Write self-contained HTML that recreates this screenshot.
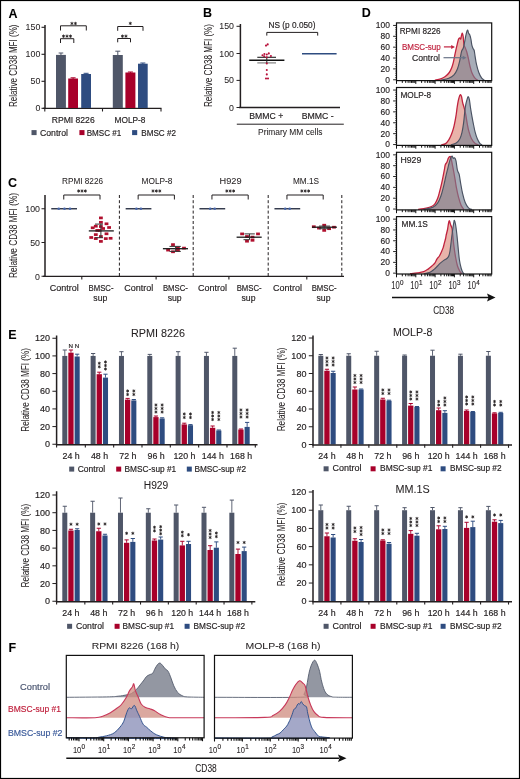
<!DOCTYPE html>
<html><head><meta charset="utf-8"><style>
html,body{margin:0;padding:0;background:#fff;}
svg{display:block;font-family:"Liberation Sans", sans-serif;will-change:transform;}
</style></head><body>
<svg width="520" height="779" viewBox="0 0 520 779">
<rect x="0" y="0" width="520" height="779" fill="#fff"/>
<rect x="0.5" y="0.5" width="519" height="778" fill="none" stroke="#000" stroke-width="1.2"/>
<text x="13" y="17.8" font-size="12.5" text-anchor="middle" fill="#000" stroke="#000" stroke-width="0.06" font-weight="bold">A</text>
<text x="207.6" y="17.4" font-size="12.5" text-anchor="middle" fill="#000" stroke="#000" stroke-width="0.06" font-weight="bold">B</text>
<text x="12.6" y="187" font-size="12.5" text-anchor="middle" fill="#000" stroke="#000" stroke-width="0.06" font-weight="bold">C</text>
<text x="366.3" y="17.3" font-size="12.5" text-anchor="middle" fill="#000" stroke="#000" stroke-width="0.06" font-weight="bold">D</text>
<text x="12.3" y="338.9" font-size="12.5" text-anchor="middle" fill="#000" stroke="#000" stroke-width="0.06" font-weight="bold">E</text>
<text x="12.3" y="652" font-size="12.5" text-anchor="middle" fill="#000" stroke="#000" stroke-width="0.06" font-weight="bold">F</text>
<text x="13.4" y="69.54" font-size="10.4" text-anchor="middle" fill="#231f20" stroke="#231f20" stroke-width="0.06" textLength="82.5" lengthAdjust="spacingAndGlyphs" transform="rotate(-90 13.4 65.8)">Relative CD38 MFI (%)</text>
<line x1="45" y1="25" x2="45" y2="109" stroke="#231f20" stroke-width="1.5" />
<line x1="41.5" y1="27.3" x2="45" y2="27.3" stroke="#231f20" stroke-width="1.1" />
<text x="40.3" y="30.01" font-size="9.9" text-anchor="end" fill="#231f20" stroke="#231f20" stroke-width="0.06" textLength="14.7" lengthAdjust="spacingAndGlyphs">150</text>
<line x1="41.5" y1="54.3" x2="45" y2="54.3" stroke="#231f20" stroke-width="1.1" />
<text x="40.3" y="57.01" font-size="9.9" text-anchor="end" fill="#231f20" stroke="#231f20" stroke-width="0.06" textLength="14.7" lengthAdjust="spacingAndGlyphs">100</text>
<line x1="41.5" y1="81.3" x2="45" y2="81.3" stroke="#231f20" stroke-width="1.1" />
<text x="40.3" y="84.01" font-size="9.9" text-anchor="end" fill="#231f20" stroke="#231f20" stroke-width="0.06" textLength="9.8" lengthAdjust="spacingAndGlyphs">50</text>
<line x1="41.5" y1="108.3" x2="45" y2="108.3" stroke="#231f20" stroke-width="1.1" />
<text x="40.3" y="111.01" font-size="9.9" text-anchor="end" fill="#231f20" stroke="#231f20" stroke-width="0.06" textLength="4.9" lengthAdjust="spacingAndGlyphs">0</text>
<line x1="43" y1="108.4" x2="161.5" y2="108.4" stroke="#231f20" stroke-width="1.4" />
<line x1="44.8" y1="108.4" x2="44.8" y2="111.5" stroke="#231f20" stroke-width="1.1" />
<line x1="102.5" y1="108.4" x2="102.5" y2="111.5" stroke="#231f20" stroke-width="1.1" />
<line x1="161" y1="108.4" x2="161" y2="111.5" stroke="#231f20" stroke-width="1.1" />
<rect x="56" y="54.9" width="9.9" height="53.1" fill="#4f5668" />
<line x1="60.95" y1="53" x2="60.95" y2="55.4" stroke="#4f5668" stroke-width="1" />
<line x1="58.65" y1="53" x2="63.25" y2="53" stroke="#4f5668" stroke-width="1" />
<rect x="68.2" y="78.5" width="9.8" height="29.5" fill="#a8002a" />
<line x1="73.1" y1="77.8" x2="73.1" y2="79" stroke="#a8002a" stroke-width="1" />
<line x1="70.6" y1="77.8" x2="75.6" y2="77.8" stroke="#a8002a" stroke-width="1" />
<rect x="81.2" y="74" width="9.8" height="34" fill="#2e4c80" />
<line x1="86.1" y1="73.3" x2="86.1" y2="74.5" stroke="#2e4c80" stroke-width="1" />
<line x1="83.6" y1="73.3" x2="88.6" y2="73.3" stroke="#2e4c80" stroke-width="1" />
<rect x="112.8" y="55" width="10" height="53" fill="#4f5668" />
<line x1="117.8" y1="51.2" x2="117.8" y2="55.5" stroke="#4f5668" stroke-width="1" />
<line x1="115.3" y1="51.2" x2="120.3" y2="51.2" stroke="#4f5668" stroke-width="1" />
<rect x="125.4" y="72.5" width="10" height="35.5" fill="#a8002a" />
<line x1="130.4" y1="72" x2="130.4" y2="73" stroke="#a8002a" stroke-width="1" />
<line x1="127.9" y1="72" x2="132.9" y2="72" stroke="#a8002a" stroke-width="1" />
<rect x="138" y="63.7" width="9.7" height="44.3" fill="#2e4c80" />
<line x1="142.85" y1="63" x2="142.85" y2="64.2" stroke="#2e4c80" stroke-width="1" />
<line x1="140.35" y1="63" x2="145.35" y2="63" stroke="#2e4c80" stroke-width="1" />
<path d="M60.5 30.5 V25.8 H86.3 V30.5" fill="none" stroke="#231f20" stroke-width="1" />
<path d="M71.95 22.25 L71.95 24.75 M70.87 22.88 L73.03 24.12 M73.03 22.88 L70.87 24.12 " stroke="#231f20" stroke-width="0.85" stroke-linecap="round"/>
<path d="M75.45 22.25 L75.45 24.75 M74.37 22.88 L76.53 24.12 M76.53 22.88 L74.37 24.12 " stroke="#231f20" stroke-width="0.85" stroke-linecap="round"/>
<path d="M60.5 43 V38.7 H73.8 V43" fill="none" stroke="#231f20" stroke-width="1" />
<path d="M63.5 34.95 L63.5 37.45 M62.42 35.58 L64.58 36.83 M64.58 35.58 L62.42 36.83 " stroke="#231f20" stroke-width="0.85" stroke-linecap="round"/>
<path d="M67 34.95 L67 37.45 M65.92 35.58 L68.08 36.83 M68.08 35.58 L65.92 36.83 " stroke="#231f20" stroke-width="0.85" stroke-linecap="round"/>
<path d="M70.5 34.95 L70.5 37.45 M69.42 35.58 L71.58 36.83 M71.58 35.58 L69.42 36.83 " stroke="#231f20" stroke-width="0.85" stroke-linecap="round"/>
<path d="M117.7 30.8 V26.5 H143 V30.8" fill="none" stroke="#231f20" stroke-width="1" />
<path d="M130.3 22.15 L130.3 24.65 M129.22 22.77 L131.38 24.02 M131.38 22.77 L129.22 24.02 " stroke="#231f20" stroke-width="0.85" stroke-linecap="round"/>
<path d="M117.7 42.3 V38.5 H130.5 V42.3" fill="none" stroke="#231f20" stroke-width="1" />
<path d="M122.45 34.95 L122.45 37.45 M121.37 35.58 L123.53 36.83 M123.53 35.58 L121.37 36.83 " stroke="#231f20" stroke-width="0.85" stroke-linecap="round"/>
<path d="M125.95 34.95 L125.95 37.45 M124.87 35.58 L127.03 36.83 M127.03 35.58 L124.87 36.83 " stroke="#231f20" stroke-width="0.85" stroke-linecap="round"/>
<text x="73.2" y="122.54" font-size="9" text-anchor="middle" fill="#231f20" stroke="#231f20" stroke-width="0.17" textLength="43" lengthAdjust="spacingAndGlyphs">RPMI 8226</text>
<text x="130" y="122.54" font-size="9" text-anchor="middle" fill="#231f20" stroke="#231f20" stroke-width="0.17" textLength="31" lengthAdjust="spacingAndGlyphs">MOLP-8</text>
<rect x="31.5" y="130.1" width="5.1" height="5" fill="#4f5668" />
<text x="39.9" y="135.7" font-size="8.6" text-anchor="start" fill="#231f20" stroke="#231f20" stroke-width="0.17" textLength="28.1" lengthAdjust="spacingAndGlyphs">Control</text>
<rect x="79.4" y="130.1" width="5.1" height="5" fill="#a8002a" />
<text x="86.7" y="135.7" font-size="8.6" text-anchor="start" fill="#231f20" stroke="#231f20" stroke-width="0.17" textLength="34.6" lengthAdjust="spacingAndGlyphs">BMSC #1</text>
<rect x="132.1" y="130.1" width="5.1" height="5" fill="#2e4c80" />
<text x="141.3" y="135.7" font-size="8.6" text-anchor="start" fill="#231f20" stroke="#231f20" stroke-width="0.17" textLength="34.7" lengthAdjust="spacingAndGlyphs">BMSC #2</text>
<text x="208.6" y="69.24" font-size="10.4" text-anchor="middle" fill="#231f20" stroke="#231f20" stroke-width="0.06" textLength="83" lengthAdjust="spacingAndGlyphs" transform="rotate(-90 208.6 65.5)">Relative CD38 MFI (%)</text>
<line x1="240.4" y1="24" x2="240.4" y2="108" stroke="#231f20" stroke-width="1.5" />
<line x1="236.5" y1="26.3" x2="240.4" y2="26.3" stroke="#231f20" stroke-width="1" />
<text x="234" y="29.36" font-size="9.9" text-anchor="end" fill="#231f20" stroke="#231f20" stroke-width="0.06" textLength="14.7" lengthAdjust="spacingAndGlyphs">150</text>
<line x1="236.5" y1="53.5" x2="240.4" y2="53.5" stroke="#231f20" stroke-width="1" />
<text x="234" y="56.56" font-size="9.9" text-anchor="end" fill="#231f20" stroke="#231f20" stroke-width="0.06" textLength="14.7" lengthAdjust="spacingAndGlyphs">100</text>
<line x1="236.5" y1="80.4" x2="240.4" y2="80.4" stroke="#231f20" stroke-width="1" />
<text x="234" y="83.46" font-size="9.9" text-anchor="end" fill="#231f20" stroke="#231f20" stroke-width="0.06" textLength="9.8" lengthAdjust="spacingAndGlyphs">50</text>
<line x1="236.5" y1="107.5" x2="240.4" y2="107.5" stroke="#231f20" stroke-width="1" />
<text x="234" y="110.56" font-size="9.9" text-anchor="end" fill="#231f20" stroke="#231f20" stroke-width="0.06" textLength="4.9" lengthAdjust="spacingAndGlyphs">0</text>
<line x1="239" y1="107.5" x2="340" y2="107.5" stroke="#231f20" stroke-width="1.4" />
<text x="266.3" y="119.38" font-size="9.4" text-anchor="middle" fill="#231f20" stroke="#231f20" stroke-width="0.17" textLength="34" lengthAdjust="spacingAndGlyphs">BMMC +</text>
<text x="317.7" y="119.38" font-size="9.4" text-anchor="middle" fill="#231f20" stroke="#231f20" stroke-width="0.17" textLength="32" lengthAdjust="spacingAndGlyphs">BMMC -</text>
<line x1="236.8" y1="124.2" x2="343.8" y2="124.2" stroke="#231f20" stroke-width="1" />
<text x="290.3" y="135.03" font-size="9.8" text-anchor="middle" fill="#231f20" stroke="#231f20" stroke-width="0.06" textLength="64.5" lengthAdjust="spacingAndGlyphs">Primary MM cells</text>
<text x="292" y="28.38" font-size="9.4" text-anchor="middle" fill="#231f20" stroke="#231f20" stroke-width="0.17" textLength="47" lengthAdjust="spacingAndGlyphs">NS (p 0.050)</text>
<path d="M266.8 35.6 V32.4 H317.7 V35.6" fill="none" stroke="#231f20" stroke-width="1" />
<line x1="302" y1="53.8" x2="336.6" y2="53.8" stroke="#2e4c80" stroke-width="1.5" />
<line x1="249.2" y1="60.2" x2="284.4" y2="60.2" stroke="#111" stroke-width="1.5" />
<line x1="257.3" y1="57.3" x2="276" y2="57.3" stroke="#222" stroke-width="1.1" />
<line x1="257.3" y1="62.9" x2="276" y2="62.9" stroke="#777" stroke-width="1.1" />
<line x1="266.8" y1="57.3" x2="266.8" y2="62.9" stroke="#222" stroke-width="1" />
<circle cx="266" cy="45.6" r="1.05" fill="#b8103a"/>
<circle cx="267.7" cy="44.4" r="1.05" fill="#b8103a"/>
<circle cx="262.5" cy="55.2" r="1.05" fill="#b8103a"/>
<circle cx="264.4" cy="54" r="1.05" fill="#b8103a"/>
<circle cx="266.8" cy="54.5" r="1.05" fill="#b8103a"/>
<circle cx="268.8" cy="53.4" r="1.05" fill="#b8103a"/>
<circle cx="270.9" cy="56" r="1.05" fill="#b8103a"/>
<circle cx="266.8" cy="57.2" r="1.05" fill="#b8103a"/>
<circle cx="264.2" cy="56.3" r="1.05" fill="#b8103a"/>
<circle cx="266.8" cy="63.5" r="1.05" fill="#b8103a"/>
<circle cx="266.8" cy="70" r="1.05" fill="#b8103a"/>
<circle cx="266.8" cy="74.4" r="1.05" fill="#b8103a"/>
<circle cx="266" cy="78.5" r="1.05" fill="#b8103a"/>
<circle cx="268" cy="78.5" r="1.05" fill="#b8103a"/>
<text x="13.4" y="239.24" font-size="10.4" text-anchor="middle" fill="#231f20" stroke="#231f20" stroke-width="0.06" textLength="85" lengthAdjust="spacingAndGlyphs" transform="rotate(-90 13.4 235.5)">Relative CD38 MFI (%)</text>
<line x1="45" y1="195" x2="45" y2="276.8" stroke="#231f20" stroke-width="1.5" />
<line x1="41.5" y1="208.75" x2="45" y2="208.75" stroke="#231f20" stroke-width="1" />
<text x="40" y="212.31" font-size="9.9" text-anchor="end" fill="#231f20" stroke="#231f20" stroke-width="0.06" textLength="14.7" lengthAdjust="spacingAndGlyphs">100</text>
<line x1="41.5" y1="242.5" x2="45" y2="242.5" stroke="#231f20" stroke-width="1" />
<text x="40" y="246.06" font-size="9.9" text-anchor="end" fill="#231f20" stroke="#231f20" stroke-width="0.06" textLength="9.8" lengthAdjust="spacingAndGlyphs">50</text>
<line x1="41.5" y1="276.25" x2="45" y2="276.25" stroke="#231f20" stroke-width="1" />
<text x="40" y="279.81" font-size="9.9" text-anchor="end" fill="#231f20" stroke="#231f20" stroke-width="0.06" textLength="4.9" lengthAdjust="spacingAndGlyphs">0</text>
<line x1="43" y1="276.4" x2="344" y2="276.4" stroke="#231f20" stroke-width="1.4" />
<text x="82.5" y="183.92" font-size="9.5" text-anchor="middle" fill="#231f20" stroke="#231f20" stroke-width="0.06" textLength="41" lengthAdjust="spacingAndGlyphs">RPMI 8226</text>
<line x1="51.25" y1="208.75" x2="77" y2="208.75" stroke="#2b3245" stroke-width="1.4" />
<circle cx="58.75" cy="208.75" r="1.35" fill="#4866a8"/>
<circle cx="64.5" cy="208.75" r="1.35" fill="#4866a8"/>
<circle cx="70" cy="208.75" r="1.35" fill="#4866a8"/>
<line x1="81.8" y1="276.4" x2="81.8" y2="279.5" stroke="#231f20" stroke-width="1.1" />
<path d="M63.75 199.5 V195 H100 V199.5" fill="none" stroke="#231f20" stroke-width="1" />
<path d="M78.6 189.81 L78.6 192.19 M77.57 190.41 L79.63 191.59 M79.63 190.41 L77.57 191.59 " stroke="#231f20" stroke-width="0.85" stroke-linecap="round"/>
<path d="M82 189.81 L82 192.19 M80.97 190.41 L83.03 191.59 M83.03 190.41 L80.97 191.59 " stroke="#231f20" stroke-width="0.85" stroke-linecap="round"/>
<path d="M85.4 189.81 L85.4 192.19 M84.37 190.41 L86.43 191.59 M86.43 190.41 L84.37 191.59 " stroke="#231f20" stroke-width="0.85" stroke-linecap="round"/>
<text x="64.3" y="291.17" font-size="8.8" text-anchor="middle" fill="#231f20" stroke="#231f20" stroke-width="0.17" textLength="29" lengthAdjust="spacingAndGlyphs">Control</text>
<text x="101" y="291.17" font-size="8.8" text-anchor="middle" fill="#231f20" stroke="#231f20" stroke-width="0.17" textLength="25" lengthAdjust="spacingAndGlyphs">BMSC-</text>
<text x="100.3" y="301.47" font-size="8.8" text-anchor="middle" fill="#231f20" stroke="#231f20" stroke-width="0.17" textLength="14" lengthAdjust="spacingAndGlyphs">sup</text>
<text x="157" y="183.92" font-size="9.5" text-anchor="middle" fill="#231f20" stroke="#231f20" stroke-width="0.06" textLength="31" lengthAdjust="spacingAndGlyphs">MOLP-8</text>
<line x1="119.4" y1="195" x2="119.4" y2="276.4" stroke="#231f20" stroke-width="1" stroke-dasharray="3 2.2"/>
<line x1="125.65" y1="208.75" x2="151.4" y2="208.75" stroke="#2b3245" stroke-width="1.4" />
<circle cx="136.4" cy="208.75" r="1.35" fill="#4866a8"/>
<circle cx="140.9" cy="208.75" r="1.35" fill="#4866a8"/>
<line x1="156.1" y1="276.4" x2="156.1" y2="279.5" stroke="#231f20" stroke-width="1.1" />
<path d="M138.15 199.5 V195 H174.4 V199.5" fill="none" stroke="#231f20" stroke-width="1" />
<path d="M153 189.81 L153 192.19 M151.97 190.41 L154.03 191.59 M154.03 190.41 L151.97 191.59 " stroke="#231f20" stroke-width="0.85" stroke-linecap="round"/>
<path d="M156.4 189.81 L156.4 192.19 M155.37 190.41 L157.43 191.59 M157.43 190.41 L155.37 191.59 " stroke="#231f20" stroke-width="0.85" stroke-linecap="round"/>
<path d="M159.8 189.81 L159.8 192.19 M158.77 190.41 L160.83 191.59 M160.83 190.41 L158.77 191.59 " stroke="#231f20" stroke-width="0.85" stroke-linecap="round"/>
<text x="138.7" y="291.17" font-size="8.8" text-anchor="middle" fill="#231f20" stroke="#231f20" stroke-width="0.17" textLength="29" lengthAdjust="spacingAndGlyphs">Control</text>
<text x="175.4" y="291.17" font-size="8.8" text-anchor="middle" fill="#231f20" stroke="#231f20" stroke-width="0.17" textLength="25" lengthAdjust="spacingAndGlyphs">BMSC-</text>
<text x="174.7" y="301.47" font-size="8.8" text-anchor="middle" fill="#231f20" stroke="#231f20" stroke-width="0.17" textLength="14" lengthAdjust="spacingAndGlyphs">sup</text>
<text x="230.5" y="183.92" font-size="9.5" text-anchor="middle" fill="#231f20" stroke="#231f20" stroke-width="0.06" textLength="22" lengthAdjust="spacingAndGlyphs">H929</text>
<line x1="193.2" y1="195" x2="193.2" y2="276.4" stroke="#231f20" stroke-width="1" stroke-dasharray="3 2.2"/>
<line x1="199.45" y1="208.75" x2="225.2" y2="208.75" stroke="#2b3245" stroke-width="1.4" />
<circle cx="210.2" cy="208.75" r="1.35" fill="#4866a8"/>
<circle cx="214.7" cy="208.75" r="1.35" fill="#4866a8"/>
<line x1="228.9" y1="276.4" x2="228.9" y2="279.5" stroke="#231f20" stroke-width="1.1" />
<path d="M211.95 199.5 V195 H248.2 V199.5" fill="none" stroke="#231f20" stroke-width="1" />
<path d="M226.8 189.81 L226.8 192.19 M225.77 190.41 L227.83 191.59 M227.83 190.41 L225.77 191.59 " stroke="#231f20" stroke-width="0.85" stroke-linecap="round"/>
<path d="M230.2 189.81 L230.2 192.19 M229.17 190.41 L231.23 191.59 M231.23 190.41 L229.17 191.59 " stroke="#231f20" stroke-width="0.85" stroke-linecap="round"/>
<path d="M233.6 189.81 L233.6 192.19 M232.57 190.41 L234.63 191.59 M234.63 190.41 L232.57 191.59 " stroke="#231f20" stroke-width="0.85" stroke-linecap="round"/>
<text x="212.5" y="291.17" font-size="8.8" text-anchor="middle" fill="#231f20" stroke="#231f20" stroke-width="0.17" textLength="29" lengthAdjust="spacingAndGlyphs">Control</text>
<text x="249.2" y="291.17" font-size="8.8" text-anchor="middle" fill="#231f20" stroke="#231f20" stroke-width="0.17" textLength="25" lengthAdjust="spacingAndGlyphs">BMSC-</text>
<text x="248.5" y="301.47" font-size="8.8" text-anchor="middle" fill="#231f20" stroke="#231f20" stroke-width="0.17" textLength="14" lengthAdjust="spacingAndGlyphs">sup</text>
<text x="306" y="183.92" font-size="9.5" text-anchor="middle" fill="#231f20" stroke="#231f20" stroke-width="0.06" textLength="26" lengthAdjust="spacingAndGlyphs">MM.1S</text>
<line x1="268.2" y1="195" x2="268.2" y2="276.4" stroke="#231f20" stroke-width="1" stroke-dasharray="3 2.2"/>
<line x1="274.45" y1="208.75" x2="300.2" y2="208.75" stroke="#2b3245" stroke-width="1.4" />
<circle cx="285.2" cy="208.75" r="1.35" fill="#4866a8"/>
<circle cx="289.7" cy="208.75" r="1.35" fill="#4866a8"/>
<line x1="306.8" y1="276.4" x2="306.8" y2="279.5" stroke="#231f20" stroke-width="1.1" />
<path d="M286.95 199.5 V195 H323.2 V199.5" fill="none" stroke="#231f20" stroke-width="1" />
<path d="M301.8 189.81 L301.8 192.19 M300.77 190.41 L302.83 191.59 M302.83 190.41 L300.77 191.59 " stroke="#231f20" stroke-width="0.85" stroke-linecap="round"/>
<path d="M305.2 189.81 L305.2 192.19 M304.17 190.41 L306.23 191.59 M306.23 190.41 L304.17 191.59 " stroke="#231f20" stroke-width="0.85" stroke-linecap="round"/>
<path d="M308.6 189.81 L308.6 192.19 M307.57 190.41 L309.63 191.59 M309.63 190.41 L307.57 191.59 " stroke="#231f20" stroke-width="0.85" stroke-linecap="round"/>
<text x="287.5" y="291.17" font-size="8.8" text-anchor="middle" fill="#231f20" stroke="#231f20" stroke-width="0.17" textLength="29" lengthAdjust="spacingAndGlyphs">Control</text>
<text x="324.2" y="291.17" font-size="8.8" text-anchor="middle" fill="#231f20" stroke="#231f20" stroke-width="0.17" textLength="25" lengthAdjust="spacingAndGlyphs">BMSC-</text>
<text x="323.5" y="301.47" font-size="8.8" text-anchor="middle" fill="#231f20" stroke="#231f20" stroke-width="0.17" textLength="14" lengthAdjust="spacingAndGlyphs">sup</text>
<line x1="341.8" y1="195" x2="341.8" y2="276.4" stroke="#231f20" stroke-width="1" stroke-dasharray="3 2.2"/>
<rect x="99" y="216.55" width="3.8" height="2.7" fill="#b0102e" />
<rect x="99" y="220.95" width="3.8" height="2.7" fill="#b0102e" />
<rect x="104.6" y="222.45" width="3.8" height="2.7" fill="#b0102e" />
<rect x="93.9" y="224.85" width="3.8" height="2.7" fill="#b0102e" />
<rect x="90.8" y="226.45" width="3.8" height="2.7" fill="#b0102e" />
<rect x="99" y="225.15" width="3.8" height="2.7" fill="#b0102e" />
<rect x="101.2" y="227.15" width="3.8" height="2.7" fill="#b0102e" />
<rect x="107.2" y="226.15" width="3.8" height="2.7" fill="#b0102e" />
<rect x="95.4" y="229.05" width="3.8" height="2.7" fill="#b0102e" />
<rect x="97.7" y="229.05" width="3.8" height="2.7" fill="#b0102e" />
<rect x="93.9" y="233.25" width="3.8" height="2.7" fill="#b0102e" />
<rect x="104.6" y="232.45" width="3.8" height="2.7" fill="#b0102e" />
<rect x="89.3" y="236.15" width="3.8" height="2.7" fill="#b0102e" />
<rect x="93.9" y="237.25" width="3.8" height="2.7" fill="#b0102e" />
<rect x="99" y="235.15" width="3.8" height="2.7" fill="#b0102e" />
<rect x="103.9" y="237.25" width="3.8" height="2.7" fill="#b0102e" />
<rect x="108.7" y="236.95" width="3.8" height="2.7" fill="#b0102e" />
<rect x="99" y="240.05" width="3.8" height="2.7" fill="#b0102e" />
<line x1="88.8" y1="230.9" x2="113.8" y2="230.9" stroke="#1a1a1a" stroke-width="1.3" />
<line x1="95" y1="224.1" x2="103" y2="224.1" stroke="#333" stroke-width="1" />
<line x1="95" y1="237.7" x2="103" y2="237.7" stroke="#333" stroke-width="1" />
<line x1="100.9" y1="224.1" x2="100.9" y2="237.7" stroke="#333" stroke-width="1" />
<rect x="171.1" y="243.25" width="3.8" height="2.7" fill="#b0102e" />
<rect x="166.2" y="248.75" width="3.8" height="2.7" fill="#b0102e" />
<rect x="171.1" y="250.45" width="3.8" height="2.7" fill="#b0102e" />
<rect x="176" y="246.75" width="3.8" height="2.7" fill="#b0102e" />
<rect x="176" y="249.05" width="3.8" height="2.7" fill="#b0102e" />
<rect x="182.1" y="246.75" width="3.8" height="2.7" fill="#b0102e" />
<line x1="162.9" y1="248.7" x2="188" y2="248.7" stroke="#1a1a1a" stroke-width="1.3" />
<line x1="169.5" y1="246.4" x2="180.8" y2="246.4" stroke="#333" stroke-width="1" />
<line x1="169.5" y1="251.4" x2="180.8" y2="251.4" stroke="#333" stroke-width="1" />
<line x1="175.6" y1="246.4" x2="175.6" y2="251.4" stroke="#333" stroke-width="1" />
<rect x="240.2" y="232.55" width="3.8" height="2.7" fill="#b0102e" />
<rect x="256.1" y="232.55" width="3.8" height="2.7" fill="#b0102e" />
<rect x="245.1" y="235.15" width="3.8" height="2.7" fill="#b0102e" />
<rect x="250.6" y="235.75" width="3.8" height="2.7" fill="#b0102e" />
<rect x="245.1" y="239.85" width="3.8" height="2.7" fill="#b0102e" />
<rect x="250.6" y="238.95" width="3.8" height="2.7" fill="#b0102e" />
<line x1="236.6" y1="237.2" x2="261.7" y2="237.2" stroke="#1a1a1a" stroke-width="1.3" />
<line x1="244.4" y1="233.9" x2="254.8" y2="233.9" stroke="#333" stroke-width="1" />
<line x1="243.5" y1="239.7" x2="249.6" y2="239.7" stroke="#333" stroke-width="1" />
<line x1="249.5" y1="233.9" x2="249.5" y2="239.7" stroke="#333" stroke-width="1" />
<rect x="311.9" y="225.35" width="3.8" height="2.7" fill="#b0102e" />
<rect x="317.1" y="226.75" width="3.8" height="2.7" fill="#b0102e" />
<rect x="322.3" y="223.85" width="3.8" height="2.7" fill="#b0102e" />
<rect x="322.3" y="229.05" width="3.8" height="2.7" fill="#b0102e" />
<rect x="327.2" y="227.35" width="3.8" height="2.7" fill="#b0102e" />
<rect x="332.1" y="225.85" width="3.8" height="2.7" fill="#b0102e" />
<line x1="312" y1="227.2" x2="336.9" y2="227.2" stroke="#1a1a1a" stroke-width="1.3" />
<line x1="319" y1="226.1" x2="330" y2="226.1" stroke="#333" stroke-width="1" />
<line x1="319" y1="228.7" x2="330" y2="228.7" stroke="#333" stroke-width="1" />
<line x1="324.2" y1="226.1" x2="324.2" y2="228.7" stroke="#333" stroke-width="1" />
<path d="M434.9 80.2 C435.94 79.95 438.83 79.47 440.7 78.8 C442.57 78.13 443.75 77.63 445.3 76.5 C446.85 75.37 448.15 74.07 449.3 72.5 C450.45 70.93 450.96 69.67 451.7 67.8 C452.44 65.93 452.84 64.37 453.4 62.1 C453.96 59.83 454.28 57.7 454.8 55.2 C455.32 52.7 455.83 50.29 456.3 48.2 C456.77 46.11 456.99 45.26 457.4 43.6 C457.81 41.94 458.19 40.04 458.6 39 C459.01 37.96 459.32 37.8 459.7 37.8 C460.08 37.8 460.38 39.41 460.7 39 C461.02 38.59 461.19 36.54 461.5 35.5 C461.81 34.46 462.09 32.98 462.4 33.2 C462.71 33.42 462.91 34.61 463.2 36.7 C463.49 38.79 463.69 42.93 464 44.8 C464.31 46.67 464.41 45.86 464.9 47.1 C465.39 48.34 466.07 49.63 466.7 51.7 C467.33 53.77 467.79 55.9 468.4 58.6 C469.01 61.3 469.49 64.2 470.1 66.7 C470.71 69.2 471.06 70.63 471.8 72.5 C472.54 74.37 473.35 75.82 474.2 77.1 C475.05 78.38 475.82 79.04 476.5 79.6 C477.18 80.16 477.73 80.09 478 80.2 L478 80.6 L434.9 80.6 Z" fill="#e9b3aa" stroke="none" stroke-width="1" />
<path d="M434.9 80.2 C435.94 79.95 438.83 79.47 440.7 78.8 C442.57 78.13 443.75 77.63 445.3 76.5 C446.85 75.37 448.15 74.07 449.3 72.5 C450.45 70.93 450.96 69.67 451.7 67.8 C452.44 65.93 452.84 64.37 453.4 62.1 C453.96 59.83 454.28 57.7 454.8 55.2 C455.32 52.7 455.83 50.29 456.3 48.2 C456.77 46.11 456.99 45.26 457.4 43.6 C457.81 41.94 458.19 40.04 458.6 39 C459.01 37.96 459.32 37.8 459.7 37.8 C460.08 37.8 460.38 39.41 460.7 39 C461.02 38.59 461.19 36.54 461.5 35.5 C461.81 34.46 462.09 32.98 462.4 33.2 C462.71 33.42 462.91 34.61 463.2 36.7 C463.49 38.79 463.69 42.93 464 44.8 C464.31 46.67 464.41 45.86 464.9 47.1 C465.39 48.34 466.07 49.63 466.7 51.7 C467.33 53.77 467.79 55.9 468.4 58.6 C469.01 61.3 469.49 64.2 470.1 66.7 C470.71 69.2 471.06 70.63 471.8 72.5 C472.54 74.37 473.35 75.82 474.2 77.1 C475.05 78.38 475.82 79.04 476.5 79.6 C477.18 80.16 477.73 80.09 478 80.2" fill="none" stroke="#c0223e" stroke-width="1.3" stroke-linejoin="round"/>
<path d="M440.7 80.2 C442.16 79.84 446.41 79.17 448.8 78.2 C451.19 77.23 452.45 76.46 454 74.8 C455.55 73.14 456.37 71.5 457.4 69 C458.43 66.5 458.96 64.01 459.7 60.9 C460.44 57.79 460.87 53.99 461.5 51.7 C462.13 49.41 462.7 49.66 463.2 48.2 C463.7 46.74 463.94 45.26 464.3 43.6 C464.66 41.94 464.88 40.66 465.2 39 C465.52 37.34 465.69 36.02 466.1 34.4 C466.51 32.78 467.05 30.22 467.5 30 C467.95 29.78 468.19 32.3 468.6 33.2 C469.01 34.1 469.39 33.96 469.8 35 C470.21 36.04 470.54 37.24 470.9 39 C471.26 40.76 471.39 43.04 471.8 44.8 C472.21 46.56 472.77 47.77 473.2 48.8 C473.63 49.83 473.86 49.15 474.2 50.5 C474.54 51.85 474.69 53.8 475.1 56.3 C475.51 58.8 475.83 61.48 476.5 64.4 C477.17 67.32 477.86 70.02 478.8 72.5 C479.74 74.98 480.67 76.81 481.7 78.2 C482.73 79.59 484 79.84 484.5 80.2 L484.5 80.6 L440.7 80.6 Z" fill="rgba(118,126,144,0.64)" stroke="none" stroke-width="1" />
<path d="M440.7 80.2 C442.16 79.84 446.41 79.17 448.8 78.2 C451.19 77.23 452.45 76.46 454 74.8 C455.55 73.14 456.37 71.5 457.4 69 C458.43 66.5 458.96 64.01 459.7 60.9 C460.44 57.79 460.87 53.99 461.5 51.7 C462.13 49.41 462.7 49.66 463.2 48.2 C463.7 46.74 463.94 45.26 464.3 43.6 C464.66 41.94 464.88 40.66 465.2 39 C465.52 37.34 465.69 36.02 466.1 34.4 C466.51 32.78 467.05 30.22 467.5 30 C467.95 29.78 468.19 32.3 468.6 33.2 C469.01 34.1 469.39 33.96 469.8 35 C470.21 36.04 470.54 37.24 470.9 39 C471.26 40.76 471.39 43.04 471.8 44.8 C472.21 46.56 472.77 47.77 473.2 48.8 C473.63 49.83 473.86 49.15 474.2 50.5 C474.54 51.85 474.69 53.8 475.1 56.3 C475.51 58.8 475.83 61.48 476.5 64.4 C477.17 67.32 477.86 70.02 478.8 72.5 C479.74 74.98 480.67 76.81 481.7 78.2 C482.73 79.59 484 79.84 484.5 80.2" fill="none" stroke="#4a5262" stroke-width="1.15" stroke-linejoin="round"/>
<rect x="396.5" y="22.9" width="95.2" height="57.7" fill="none" stroke="#111" stroke-width="1.2"/>
<line x1="393.1" y1="79.75" x2="396.5" y2="79.75" stroke="#111" stroke-width="0.9" />
<text x="389.9" y="82.63" font-size="9.4" text-anchor="end" fill="#231f20" stroke="#231f20" stroke-width="0.17" textLength="4.7" lengthAdjust="spacingAndGlyphs">0</text>
<line x1="395" y1="77.58" x2="396.5" y2="77.58" stroke="#111" stroke-width="0.6" />
<line x1="395" y1="75.41" x2="396.5" y2="75.41" stroke="#111" stroke-width="0.6" />
<line x1="395" y1="73.23" x2="396.5" y2="73.23" stroke="#111" stroke-width="0.6" />
<line x1="395" y1="71.06" x2="396.5" y2="71.06" stroke="#111" stroke-width="0.6" />
<line x1="393.1" y1="68.89" x2="396.5" y2="68.89" stroke="#111" stroke-width="0.9" />
<text x="389.9" y="71.77" font-size="9.4" text-anchor="end" fill="#231f20" stroke="#231f20" stroke-width="0.17" textLength="9.4" lengthAdjust="spacingAndGlyphs">20</text>
<line x1="395" y1="66.72" x2="396.5" y2="66.72" stroke="#111" stroke-width="0.6" />
<line x1="395" y1="64.55" x2="396.5" y2="64.55" stroke="#111" stroke-width="0.6" />
<line x1="395" y1="62.37" x2="396.5" y2="62.37" stroke="#111" stroke-width="0.6" />
<line x1="395" y1="60.2" x2="396.5" y2="60.2" stroke="#111" stroke-width="0.6" />
<line x1="393.1" y1="58.03" x2="396.5" y2="58.03" stroke="#111" stroke-width="0.9" />
<text x="389.9" y="60.91" font-size="9.4" text-anchor="end" fill="#231f20" stroke="#231f20" stroke-width="0.17" textLength="9.4" lengthAdjust="spacingAndGlyphs">40</text>
<line x1="395" y1="55.86" x2="396.5" y2="55.86" stroke="#111" stroke-width="0.6" />
<line x1="395" y1="53.69" x2="396.5" y2="53.69" stroke="#111" stroke-width="0.6" />
<line x1="395" y1="51.51" x2="396.5" y2="51.51" stroke="#111" stroke-width="0.6" />
<line x1="395" y1="49.34" x2="396.5" y2="49.34" stroke="#111" stroke-width="0.6" />
<line x1="393.1" y1="47.17" x2="396.5" y2="47.17" stroke="#111" stroke-width="0.9" />
<text x="389.9" y="50.05" font-size="9.4" text-anchor="end" fill="#231f20" stroke="#231f20" stroke-width="0.17" textLength="9.4" lengthAdjust="spacingAndGlyphs">60</text>
<line x1="395" y1="45" x2="396.5" y2="45" stroke="#111" stroke-width="0.6" />
<line x1="395" y1="42.83" x2="396.5" y2="42.83" stroke="#111" stroke-width="0.6" />
<line x1="395" y1="40.65" x2="396.5" y2="40.65" stroke="#111" stroke-width="0.6" />
<line x1="395" y1="38.48" x2="396.5" y2="38.48" stroke="#111" stroke-width="0.6" />
<line x1="393.1" y1="36.31" x2="396.5" y2="36.31" stroke="#111" stroke-width="0.9" />
<text x="389.9" y="39.19" font-size="9.4" text-anchor="end" fill="#231f20" stroke="#231f20" stroke-width="0.17" textLength="9.4" lengthAdjust="spacingAndGlyphs">80</text>
<line x1="395" y1="34.14" x2="396.5" y2="34.14" stroke="#111" stroke-width="0.6" />
<line x1="395" y1="31.97" x2="396.5" y2="31.97" stroke="#111" stroke-width="0.6" />
<line x1="395" y1="29.79" x2="396.5" y2="29.79" stroke="#111" stroke-width="0.6" />
<line x1="395" y1="27.62" x2="396.5" y2="27.62" stroke="#111" stroke-width="0.6" />
<line x1="393.1" y1="25.45" x2="396.5" y2="25.45" stroke="#111" stroke-width="0.9" />
<text x="389.9" y="28.33" font-size="9.4" text-anchor="end" fill="#231f20" stroke="#231f20" stroke-width="0.17" textLength="14.1" lengthAdjust="spacingAndGlyphs">100</text>
<line x1="396.5" y1="80.6" x2="396.5" y2="83.9" stroke="#111" stroke-width="1" />
<line x1="402.31" y1="80.6" x2="402.31" y2="82.9" stroke="#111" stroke-width="1" />
<line x1="405.71" y1="80.6" x2="405.71" y2="82.9" stroke="#111" stroke-width="1" />
<line x1="408.12" y1="80.6" x2="408.12" y2="82.9" stroke="#111" stroke-width="1" />
<line x1="409.99" y1="80.6" x2="409.99" y2="82.9" stroke="#111" stroke-width="1" />
<line x1="411.52" y1="80.6" x2="411.52" y2="82.9" stroke="#111" stroke-width="1" />
<line x1="412.81" y1="80.6" x2="412.81" y2="82.9" stroke="#111" stroke-width="1" />
<line x1="413.93" y1="80.6" x2="413.93" y2="82.9" stroke="#111" stroke-width="1" />
<line x1="414.92" y1="80.6" x2="414.92" y2="82.9" stroke="#111" stroke-width="1" />
<line x1="415.8" y1="80.6" x2="415.8" y2="83.9" stroke="#111" stroke-width="1" />
<line x1="421.61" y1="80.6" x2="421.61" y2="82.9" stroke="#111" stroke-width="1" />
<line x1="425.01" y1="80.6" x2="425.01" y2="82.9" stroke="#111" stroke-width="1" />
<line x1="427.42" y1="80.6" x2="427.42" y2="82.9" stroke="#111" stroke-width="1" />
<line x1="429.29" y1="80.6" x2="429.29" y2="82.9" stroke="#111" stroke-width="1" />
<line x1="430.82" y1="80.6" x2="430.82" y2="82.9" stroke="#111" stroke-width="1" />
<line x1="432.11" y1="80.6" x2="432.11" y2="82.9" stroke="#111" stroke-width="1" />
<line x1="433.23" y1="80.6" x2="433.23" y2="82.9" stroke="#111" stroke-width="1" />
<line x1="434.22" y1="80.6" x2="434.22" y2="82.9" stroke="#111" stroke-width="1" />
<line x1="435.1" y1="80.6" x2="435.1" y2="83.9" stroke="#111" stroke-width="1" />
<line x1="440.91" y1="80.6" x2="440.91" y2="82.9" stroke="#111" stroke-width="1" />
<line x1="444.31" y1="80.6" x2="444.31" y2="82.9" stroke="#111" stroke-width="1" />
<line x1="446.72" y1="80.6" x2="446.72" y2="82.9" stroke="#111" stroke-width="1" />
<line x1="448.59" y1="80.6" x2="448.59" y2="82.9" stroke="#111" stroke-width="1" />
<line x1="450.12" y1="80.6" x2="450.12" y2="82.9" stroke="#111" stroke-width="1" />
<line x1="451.41" y1="80.6" x2="451.41" y2="82.9" stroke="#111" stroke-width="1" />
<line x1="452.53" y1="80.6" x2="452.53" y2="82.9" stroke="#111" stroke-width="1" />
<line x1="453.52" y1="80.6" x2="453.52" y2="82.9" stroke="#111" stroke-width="1" />
<line x1="454.4" y1="80.6" x2="454.4" y2="83.9" stroke="#111" stroke-width="1" />
<line x1="460.21" y1="80.6" x2="460.21" y2="82.9" stroke="#111" stroke-width="1" />
<line x1="463.61" y1="80.6" x2="463.61" y2="82.9" stroke="#111" stroke-width="1" />
<line x1="466.02" y1="80.6" x2="466.02" y2="82.9" stroke="#111" stroke-width="1" />
<line x1="467.89" y1="80.6" x2="467.89" y2="82.9" stroke="#111" stroke-width="1" />
<line x1="469.42" y1="80.6" x2="469.42" y2="82.9" stroke="#111" stroke-width="1" />
<line x1="470.71" y1="80.6" x2="470.71" y2="82.9" stroke="#111" stroke-width="1" />
<line x1="471.83" y1="80.6" x2="471.83" y2="82.9" stroke="#111" stroke-width="1" />
<line x1="472.82" y1="80.6" x2="472.82" y2="82.9" stroke="#111" stroke-width="1" />
<line x1="473.7" y1="80.6" x2="473.7" y2="83.9" stroke="#111" stroke-width="1" />
<line x1="479.51" y1="80.6" x2="479.51" y2="82.9" stroke="#111" stroke-width="1" />
<line x1="482.91" y1="80.6" x2="482.91" y2="82.9" stroke="#111" stroke-width="1" />
<line x1="485.32" y1="80.6" x2="485.32" y2="82.9" stroke="#111" stroke-width="1" />
<line x1="487.19" y1="80.6" x2="487.19" y2="82.9" stroke="#111" stroke-width="1" />
<line x1="488.72" y1="80.6" x2="488.72" y2="82.9" stroke="#111" stroke-width="1" />
<line x1="490.01" y1="80.6" x2="490.01" y2="82.9" stroke="#111" stroke-width="1" />
<line x1="491.13" y1="80.6" x2="491.13" y2="82.9" stroke="#111" stroke-width="1" />
<text x="399.7" y="33.65" font-size="9.3" text-anchor="start" fill="#231f20" stroke="#231f20" stroke-width="0.17" textLength="41" lengthAdjust="spacingAndGlyphs">RPMI 8226</text>
<path d="M441.3 144.8 C442.07 144.58 444.25 144.48 445.6 143.6 C446.95 142.72 447.76 141.52 448.8 139.9 C449.84 138.28 450.55 136.71 451.4 134.6 C452.25 132.49 452.83 130.68 453.5 128.2 C454.17 125.72 454.61 123.27 455.1 120.8 C455.59 118.33 455.82 116.98 456.2 114.5 C456.58 112.02 456.82 109.48 457.2 107 C457.58 104.52 457.87 102.7 458.3 100.7 C458.73 98.7 459.22 97 459.6 95.9 C459.98 94.8 460.06 94.49 460.4 94.6 C460.74 94.71 461.09 95.02 461.5 96.5 C461.91 97.98 462.23 100.8 462.7 102.8 C463.17 104.8 463.56 105.49 464.1 107.6 C464.64 109.71 465.12 111.55 465.7 114.5 C466.28 117.45 466.72 120.96 467.3 124 C467.88 127.04 468.14 128.74 468.9 131.4 C469.66 134.06 470.37 136.6 471.5 138.8 C472.63 141 473.96 142.52 475.2 143.6 C476.44 144.68 477.82 144.58 478.4 144.8 L478.4 145.4 L441.3 145.4 Z" fill="#e9b3aa" stroke="none" stroke-width="1" />
<path d="M441.3 144.8 C442.07 144.58 444.25 144.48 445.6 143.6 C446.95 142.72 447.76 141.52 448.8 139.9 C449.84 138.28 450.55 136.71 451.4 134.6 C452.25 132.49 452.83 130.68 453.5 128.2 C454.17 125.72 454.61 123.27 455.1 120.8 C455.59 118.33 455.82 116.98 456.2 114.5 C456.58 112.02 456.82 109.48 457.2 107 C457.58 104.52 457.87 102.7 458.3 100.7 C458.73 98.7 459.22 97 459.6 95.9 C459.98 94.8 460.06 94.49 460.4 94.6 C460.74 94.71 461.09 95.02 461.5 96.5 C461.91 97.98 462.23 100.8 462.7 102.8 C463.17 104.8 463.56 105.49 464.1 107.6 C464.64 109.71 465.12 111.55 465.7 114.5 C466.28 117.45 466.72 120.96 467.3 124 C467.88 127.04 468.14 128.74 468.9 131.4 C469.66 134.06 470.37 136.6 471.5 138.8 C472.63 141 473.96 142.52 475.2 143.6 C476.44 144.68 477.82 144.58 478.4 144.8" fill="none" stroke="#c0223e" stroke-width="1.3" stroke-linejoin="round"/>
<path d="M450.9 144.8 C451.85 144.48 454.58 144.08 456.2 143 C457.82 141.92 458.86 140.71 459.9 138.8 C460.94 136.89 461.33 135.26 462 132.4 C462.67 129.54 463.13 126.32 463.6 122.9 C464.07 119.48 464.22 116.64 464.6 113.4 C464.98 110.16 465.21 107.56 465.7 104.9 C466.19 102.24 466.83 100.08 467.3 98.6 C467.77 97.12 467.92 96.52 468.3 96.7 C468.68 96.88 469.02 97.75 469.4 99.6 C469.78 101.45 469.93 103.94 470.4 107 C470.87 110.06 471.42 113.36 472 116.6 C472.58 119.84 473.02 122.16 473.6 125 C474.18 127.84 474.53 129.92 475.2 132.4 C475.87 134.88 476.44 136.78 477.3 138.8 C478.16 140.82 479.14 142.52 480 143.6 C480.86 144.68 481.72 144.58 482.1 144.8 L482.1 145.4 L450.9 145.4 Z" fill="rgba(118,126,144,0.64)" stroke="none" stroke-width="1" />
<path d="M450.9 144.8 C451.85 144.48 454.58 144.08 456.2 143 C457.82 141.92 458.86 140.71 459.9 138.8 C460.94 136.89 461.33 135.26 462 132.4 C462.67 129.54 463.13 126.32 463.6 122.9 C464.07 119.48 464.22 116.64 464.6 113.4 C464.98 110.16 465.21 107.56 465.7 104.9 C466.19 102.24 466.83 100.08 467.3 98.6 C467.77 97.12 467.92 96.52 468.3 96.7 C468.68 96.88 469.02 97.75 469.4 99.6 C469.78 101.45 469.93 103.94 470.4 107 C470.87 110.06 471.42 113.36 472 116.6 C472.58 119.84 473.02 122.16 473.6 125 C474.18 127.84 474.53 129.92 475.2 132.4 C475.87 134.88 476.44 136.78 477.3 138.8 C478.16 140.82 479.14 142.52 480 143.6 C480.86 144.68 481.72 144.58 482.1 144.8" fill="none" stroke="#4a5262" stroke-width="1.15" stroke-linejoin="round"/>
<rect x="396.5" y="87.5" width="95.2" height="57.9" fill="none" stroke="#111" stroke-width="1.2"/>
<line x1="393.1" y1="144.55" x2="396.5" y2="144.55" stroke="#111" stroke-width="0.9" />
<text x="389.9" y="147.43" font-size="9.4" text-anchor="end" fill="#231f20" stroke="#231f20" stroke-width="0.17" textLength="4.7" lengthAdjust="spacingAndGlyphs">0</text>
<line x1="395" y1="142.37" x2="396.5" y2="142.37" stroke="#111" stroke-width="0.6" />
<line x1="395" y1="140.19" x2="396.5" y2="140.19" stroke="#111" stroke-width="0.6" />
<line x1="395" y1="138.01" x2="396.5" y2="138.01" stroke="#111" stroke-width="0.6" />
<line x1="395" y1="135.83" x2="396.5" y2="135.83" stroke="#111" stroke-width="0.6" />
<line x1="393.1" y1="133.65" x2="396.5" y2="133.65" stroke="#111" stroke-width="0.9" />
<text x="389.9" y="136.53" font-size="9.4" text-anchor="end" fill="#231f20" stroke="#231f20" stroke-width="0.17" textLength="9.4" lengthAdjust="spacingAndGlyphs">20</text>
<line x1="395" y1="131.47" x2="396.5" y2="131.47" stroke="#111" stroke-width="0.6" />
<line x1="395" y1="129.29" x2="396.5" y2="129.29" stroke="#111" stroke-width="0.6" />
<line x1="395" y1="127.11" x2="396.5" y2="127.11" stroke="#111" stroke-width="0.6" />
<line x1="395" y1="124.93" x2="396.5" y2="124.93" stroke="#111" stroke-width="0.6" />
<line x1="393.1" y1="122.75" x2="396.5" y2="122.75" stroke="#111" stroke-width="0.9" />
<text x="389.9" y="125.63" font-size="9.4" text-anchor="end" fill="#231f20" stroke="#231f20" stroke-width="0.17" textLength="9.4" lengthAdjust="spacingAndGlyphs">40</text>
<line x1="395" y1="120.57" x2="396.5" y2="120.57" stroke="#111" stroke-width="0.6" />
<line x1="395" y1="118.39" x2="396.5" y2="118.39" stroke="#111" stroke-width="0.6" />
<line x1="395" y1="116.21" x2="396.5" y2="116.21" stroke="#111" stroke-width="0.6" />
<line x1="395" y1="114.03" x2="396.5" y2="114.03" stroke="#111" stroke-width="0.6" />
<line x1="393.1" y1="111.85" x2="396.5" y2="111.85" stroke="#111" stroke-width="0.9" />
<text x="389.9" y="114.73" font-size="9.4" text-anchor="end" fill="#231f20" stroke="#231f20" stroke-width="0.17" textLength="9.4" lengthAdjust="spacingAndGlyphs">60</text>
<line x1="395" y1="109.67" x2="396.5" y2="109.67" stroke="#111" stroke-width="0.6" />
<line x1="395" y1="107.49" x2="396.5" y2="107.49" stroke="#111" stroke-width="0.6" />
<line x1="395" y1="105.31" x2="396.5" y2="105.31" stroke="#111" stroke-width="0.6" />
<line x1="395" y1="103.13" x2="396.5" y2="103.13" stroke="#111" stroke-width="0.6" />
<line x1="393.1" y1="100.95" x2="396.5" y2="100.95" stroke="#111" stroke-width="0.9" />
<text x="389.9" y="103.83" font-size="9.4" text-anchor="end" fill="#231f20" stroke="#231f20" stroke-width="0.17" textLength="9.4" lengthAdjust="spacingAndGlyphs">80</text>
<line x1="395" y1="98.77" x2="396.5" y2="98.77" stroke="#111" stroke-width="0.6" />
<line x1="395" y1="96.59" x2="396.5" y2="96.59" stroke="#111" stroke-width="0.6" />
<line x1="395" y1="94.41" x2="396.5" y2="94.41" stroke="#111" stroke-width="0.6" />
<line x1="395" y1="92.23" x2="396.5" y2="92.23" stroke="#111" stroke-width="0.6" />
<line x1="393.1" y1="90.05" x2="396.5" y2="90.05" stroke="#111" stroke-width="0.9" />
<text x="389.9" y="92.93" font-size="9.4" text-anchor="end" fill="#231f20" stroke="#231f20" stroke-width="0.17" textLength="14.1" lengthAdjust="spacingAndGlyphs">100</text>
<line x1="396.5" y1="145.4" x2="396.5" y2="148.7" stroke="#111" stroke-width="1" />
<line x1="402.31" y1="145.4" x2="402.31" y2="147.7" stroke="#111" stroke-width="1" />
<line x1="405.71" y1="145.4" x2="405.71" y2="147.7" stroke="#111" stroke-width="1" />
<line x1="408.12" y1="145.4" x2="408.12" y2="147.7" stroke="#111" stroke-width="1" />
<line x1="409.99" y1="145.4" x2="409.99" y2="147.7" stroke="#111" stroke-width="1" />
<line x1="411.52" y1="145.4" x2="411.52" y2="147.7" stroke="#111" stroke-width="1" />
<line x1="412.81" y1="145.4" x2="412.81" y2="147.7" stroke="#111" stroke-width="1" />
<line x1="413.93" y1="145.4" x2="413.93" y2="147.7" stroke="#111" stroke-width="1" />
<line x1="414.92" y1="145.4" x2="414.92" y2="147.7" stroke="#111" stroke-width="1" />
<line x1="415.8" y1="145.4" x2="415.8" y2="148.7" stroke="#111" stroke-width="1" />
<line x1="421.61" y1="145.4" x2="421.61" y2="147.7" stroke="#111" stroke-width="1" />
<line x1="425.01" y1="145.4" x2="425.01" y2="147.7" stroke="#111" stroke-width="1" />
<line x1="427.42" y1="145.4" x2="427.42" y2="147.7" stroke="#111" stroke-width="1" />
<line x1="429.29" y1="145.4" x2="429.29" y2="147.7" stroke="#111" stroke-width="1" />
<line x1="430.82" y1="145.4" x2="430.82" y2="147.7" stroke="#111" stroke-width="1" />
<line x1="432.11" y1="145.4" x2="432.11" y2="147.7" stroke="#111" stroke-width="1" />
<line x1="433.23" y1="145.4" x2="433.23" y2="147.7" stroke="#111" stroke-width="1" />
<line x1="434.22" y1="145.4" x2="434.22" y2="147.7" stroke="#111" stroke-width="1" />
<line x1="435.1" y1="145.4" x2="435.1" y2="148.7" stroke="#111" stroke-width="1" />
<line x1="440.91" y1="145.4" x2="440.91" y2="147.7" stroke="#111" stroke-width="1" />
<line x1="444.31" y1="145.4" x2="444.31" y2="147.7" stroke="#111" stroke-width="1" />
<line x1="446.72" y1="145.4" x2="446.72" y2="147.7" stroke="#111" stroke-width="1" />
<line x1="448.59" y1="145.4" x2="448.59" y2="147.7" stroke="#111" stroke-width="1" />
<line x1="450.12" y1="145.4" x2="450.12" y2="147.7" stroke="#111" stroke-width="1" />
<line x1="451.41" y1="145.4" x2="451.41" y2="147.7" stroke="#111" stroke-width="1" />
<line x1="452.53" y1="145.4" x2="452.53" y2="147.7" stroke="#111" stroke-width="1" />
<line x1="453.52" y1="145.4" x2="453.52" y2="147.7" stroke="#111" stroke-width="1" />
<line x1="454.4" y1="145.4" x2="454.4" y2="148.7" stroke="#111" stroke-width="1" />
<line x1="460.21" y1="145.4" x2="460.21" y2="147.7" stroke="#111" stroke-width="1" />
<line x1="463.61" y1="145.4" x2="463.61" y2="147.7" stroke="#111" stroke-width="1" />
<line x1="466.02" y1="145.4" x2="466.02" y2="147.7" stroke="#111" stroke-width="1" />
<line x1="467.89" y1="145.4" x2="467.89" y2="147.7" stroke="#111" stroke-width="1" />
<line x1="469.42" y1="145.4" x2="469.42" y2="147.7" stroke="#111" stroke-width="1" />
<line x1="470.71" y1="145.4" x2="470.71" y2="147.7" stroke="#111" stroke-width="1" />
<line x1="471.83" y1="145.4" x2="471.83" y2="147.7" stroke="#111" stroke-width="1" />
<line x1="472.82" y1="145.4" x2="472.82" y2="147.7" stroke="#111" stroke-width="1" />
<line x1="473.7" y1="145.4" x2="473.7" y2="148.7" stroke="#111" stroke-width="1" />
<line x1="479.51" y1="145.4" x2="479.51" y2="147.7" stroke="#111" stroke-width="1" />
<line x1="482.91" y1="145.4" x2="482.91" y2="147.7" stroke="#111" stroke-width="1" />
<line x1="485.32" y1="145.4" x2="485.32" y2="147.7" stroke="#111" stroke-width="1" />
<line x1="487.19" y1="145.4" x2="487.19" y2="147.7" stroke="#111" stroke-width="1" />
<line x1="488.72" y1="145.4" x2="488.72" y2="147.7" stroke="#111" stroke-width="1" />
<line x1="490.01" y1="145.4" x2="490.01" y2="147.7" stroke="#111" stroke-width="1" />
<line x1="491.13" y1="145.4" x2="491.13" y2="147.7" stroke="#111" stroke-width="1" />
<text x="400.5" y="98.25" font-size="9.3" text-anchor="start" fill="#231f20" stroke="#231f20" stroke-width="0.17" textLength="30.7" lengthAdjust="spacingAndGlyphs">MOLP-8</text>
<path d="M418.1 209.4 C419.56 209.17 423.79 208.62 426.2 208.1 C428.61 207.58 429.93 207.27 431.5 206.5 C433.07 205.73 433.8 205.24 434.9 203.8 C436 202.36 436.75 200.68 437.6 198.5 C438.45 196.32 438.88 194.38 439.6 191.7 C440.32 189.02 440.99 186.26 441.6 183.6 C442.21 180.94 442.51 179.31 443 176.9 C443.49 174.49 443.89 172.38 444.3 170.2 C444.71 168.02 444.81 166.26 445.3 164.8 C445.79 163.34 446.44 163.31 447 162.1 C447.56 160.89 447.84 159.11 448.4 158.1 C448.96 157.09 449.63 156.5 450.1 156.5 C450.57 156.5 450.59 156.61 451 158.1 C451.41 159.59 451.91 162.39 452.4 164.8 C452.89 167.21 453.21 168.84 453.7 171.5 C454.19 174.16 454.61 176.68 455.1 179.6 C455.59 182.52 455.79 184.55 456.4 187.7 C457.01 190.85 457.65 193.95 458.5 197.1 C459.35 200.25 460.15 202.99 461.1 205.2 C462.05 207.41 463.31 208.64 463.8 209.4 L463.8 209.9 L418.1 209.9 Z" fill="#e9b3aa" stroke="none" stroke-width="1" />
<path d="M418.1 209.4 C419.56 209.17 423.79 208.62 426.2 208.1 C428.61 207.58 429.93 207.27 431.5 206.5 C433.07 205.73 433.8 205.24 434.9 203.8 C436 202.36 436.75 200.68 437.6 198.5 C438.45 196.32 438.88 194.38 439.6 191.7 C440.32 189.02 440.99 186.26 441.6 183.6 C442.21 180.94 442.51 179.31 443 176.9 C443.49 174.49 443.89 172.38 444.3 170.2 C444.71 168.02 444.81 166.26 445.3 164.8 C445.79 163.34 446.44 163.31 447 162.1 C447.56 160.89 447.84 159.11 448.4 158.1 C448.96 157.09 449.63 156.5 450.1 156.5 C450.57 156.5 450.59 156.61 451 158.1 C451.41 159.59 451.91 162.39 452.4 164.8 C452.89 167.21 453.21 168.84 453.7 171.5 C454.19 174.16 454.61 176.68 455.1 179.6 C455.59 182.52 455.79 184.55 456.4 187.7 C457.01 190.85 457.65 193.95 458.5 197.1 C459.35 200.25 460.15 202.99 461.1 205.2 C462.05 207.41 463.31 208.64 463.8 209.4" fill="none" stroke="#c0223e" stroke-width="1.3" stroke-linejoin="round"/>
<path d="M423.5 209.4 C425.19 209 430.36 208.32 432.9 207.2 C435.44 206.08 436.14 205.25 437.6 203.2 C439.06 201.15 439.92 198.84 441 195.8 C442.08 192.76 442.75 189.7 443.6 186.3 C444.45 182.9 444.96 180.05 445.7 176.9 C446.44 173.75 447.11 171.21 447.7 168.8 C448.29 166.39 448.51 165.32 449 163.5 C449.49 161.68 449.86 160.03 450.4 158.7 C450.94 157.37 451.48 156.17 452 156.1 C452.52 156.03 452.81 157.99 453.3 158.3 C453.79 158.61 454.21 157.35 454.7 157.8 C455.19 158.25 455.51 158.57 456 160.8 C456.49 163.03 456.84 167.79 457.4 170.2 C457.96 172.61 458.54 172.02 459.1 174.2 C459.66 176.38 459.89 178.9 460.5 182.3 C461.11 185.7 461.65 189.46 462.5 193.1 C463.35 196.74 464.12 199.84 465.2 202.5 C466.28 205.16 467.29 206.66 468.5 207.9 C469.71 209.14 471.29 209.13 471.9 209.4 L471.9 209.9 L423.5 209.9 Z" fill="rgba(118,126,144,0.64)" stroke="none" stroke-width="1" />
<path d="M423.5 209.4 C425.19 209 430.36 208.32 432.9 207.2 C435.44 206.08 436.14 205.25 437.6 203.2 C439.06 201.15 439.92 198.84 441 195.8 C442.08 192.76 442.75 189.7 443.6 186.3 C444.45 182.9 444.96 180.05 445.7 176.9 C446.44 173.75 447.11 171.21 447.7 168.8 C448.29 166.39 448.51 165.32 449 163.5 C449.49 161.68 449.86 160.03 450.4 158.7 C450.94 157.37 451.48 156.17 452 156.1 C452.52 156.03 452.81 157.99 453.3 158.3 C453.79 158.61 454.21 157.35 454.7 157.8 C455.19 158.25 455.51 158.57 456 160.8 C456.49 163.03 456.84 167.79 457.4 170.2 C457.96 172.61 458.54 172.02 459.1 174.2 C459.66 176.38 459.89 178.9 460.5 182.3 C461.11 185.7 461.65 189.46 462.5 193.1 C463.35 196.74 464.12 199.84 465.2 202.5 C466.28 205.16 467.29 206.66 468.5 207.9 C469.71 209.14 471.29 209.13 471.9 209.4" fill="none" stroke="#4a5262" stroke-width="1.15" stroke-linejoin="round"/>
<rect x="396.5" y="152.3" width="95.2" height="57.6" fill="none" stroke="#111" stroke-width="1.2"/>
<line x1="393.1" y1="209.05" x2="396.5" y2="209.05" stroke="#111" stroke-width="0.9" />
<text x="389.9" y="211.93" font-size="9.4" text-anchor="end" fill="#231f20" stroke="#231f20" stroke-width="0.17" textLength="4.7" lengthAdjust="spacingAndGlyphs">0</text>
<line x1="395" y1="206.88" x2="396.5" y2="206.88" stroke="#111" stroke-width="0.6" />
<line x1="395" y1="204.71" x2="396.5" y2="204.71" stroke="#111" stroke-width="0.6" />
<line x1="395" y1="202.55" x2="396.5" y2="202.55" stroke="#111" stroke-width="0.6" />
<line x1="395" y1="200.38" x2="396.5" y2="200.38" stroke="#111" stroke-width="0.6" />
<line x1="393.1" y1="198.21" x2="396.5" y2="198.21" stroke="#111" stroke-width="0.9" />
<text x="389.9" y="201.09" font-size="9.4" text-anchor="end" fill="#231f20" stroke="#231f20" stroke-width="0.17" textLength="9.4" lengthAdjust="spacingAndGlyphs">20</text>
<line x1="395" y1="196.04" x2="396.5" y2="196.04" stroke="#111" stroke-width="0.6" />
<line x1="395" y1="193.87" x2="396.5" y2="193.87" stroke="#111" stroke-width="0.6" />
<line x1="395" y1="191.71" x2="396.5" y2="191.71" stroke="#111" stroke-width="0.6" />
<line x1="395" y1="189.54" x2="396.5" y2="189.54" stroke="#111" stroke-width="0.6" />
<line x1="393.1" y1="187.37" x2="396.5" y2="187.37" stroke="#111" stroke-width="0.9" />
<text x="389.9" y="190.25" font-size="9.4" text-anchor="end" fill="#231f20" stroke="#231f20" stroke-width="0.17" textLength="9.4" lengthAdjust="spacingAndGlyphs">40</text>
<line x1="395" y1="185.2" x2="396.5" y2="185.2" stroke="#111" stroke-width="0.6" />
<line x1="395" y1="183.03" x2="396.5" y2="183.03" stroke="#111" stroke-width="0.6" />
<line x1="395" y1="180.87" x2="396.5" y2="180.87" stroke="#111" stroke-width="0.6" />
<line x1="395" y1="178.7" x2="396.5" y2="178.7" stroke="#111" stroke-width="0.6" />
<line x1="393.1" y1="176.53" x2="396.5" y2="176.53" stroke="#111" stroke-width="0.9" />
<text x="389.9" y="179.41" font-size="9.4" text-anchor="end" fill="#231f20" stroke="#231f20" stroke-width="0.17" textLength="9.4" lengthAdjust="spacingAndGlyphs">60</text>
<line x1="395" y1="174.36" x2="396.5" y2="174.36" stroke="#111" stroke-width="0.6" />
<line x1="395" y1="172.19" x2="396.5" y2="172.19" stroke="#111" stroke-width="0.6" />
<line x1="395" y1="170.03" x2="396.5" y2="170.03" stroke="#111" stroke-width="0.6" />
<line x1="395" y1="167.86" x2="396.5" y2="167.86" stroke="#111" stroke-width="0.6" />
<line x1="393.1" y1="165.69" x2="396.5" y2="165.69" stroke="#111" stroke-width="0.9" />
<text x="389.9" y="168.57" font-size="9.4" text-anchor="end" fill="#231f20" stroke="#231f20" stroke-width="0.17" textLength="9.4" lengthAdjust="spacingAndGlyphs">80</text>
<line x1="395" y1="163.52" x2="396.5" y2="163.52" stroke="#111" stroke-width="0.6" />
<line x1="395" y1="161.35" x2="396.5" y2="161.35" stroke="#111" stroke-width="0.6" />
<line x1="395" y1="159.19" x2="396.5" y2="159.19" stroke="#111" stroke-width="0.6" />
<line x1="395" y1="157.02" x2="396.5" y2="157.02" stroke="#111" stroke-width="0.6" />
<line x1="393.1" y1="154.85" x2="396.5" y2="154.85" stroke="#111" stroke-width="0.9" />
<text x="389.9" y="157.73" font-size="9.4" text-anchor="end" fill="#231f20" stroke="#231f20" stroke-width="0.17" textLength="14.1" lengthAdjust="spacingAndGlyphs">100</text>
<line x1="396.5" y1="209.9" x2="396.5" y2="213.2" stroke="#111" stroke-width="1" />
<line x1="402.31" y1="209.9" x2="402.31" y2="212.2" stroke="#111" stroke-width="1" />
<line x1="405.71" y1="209.9" x2="405.71" y2="212.2" stroke="#111" stroke-width="1" />
<line x1="408.12" y1="209.9" x2="408.12" y2="212.2" stroke="#111" stroke-width="1" />
<line x1="409.99" y1="209.9" x2="409.99" y2="212.2" stroke="#111" stroke-width="1" />
<line x1="411.52" y1="209.9" x2="411.52" y2="212.2" stroke="#111" stroke-width="1" />
<line x1="412.81" y1="209.9" x2="412.81" y2="212.2" stroke="#111" stroke-width="1" />
<line x1="413.93" y1="209.9" x2="413.93" y2="212.2" stroke="#111" stroke-width="1" />
<line x1="414.92" y1="209.9" x2="414.92" y2="212.2" stroke="#111" stroke-width="1" />
<line x1="415.8" y1="209.9" x2="415.8" y2="213.2" stroke="#111" stroke-width="1" />
<line x1="421.61" y1="209.9" x2="421.61" y2="212.2" stroke="#111" stroke-width="1" />
<line x1="425.01" y1="209.9" x2="425.01" y2="212.2" stroke="#111" stroke-width="1" />
<line x1="427.42" y1="209.9" x2="427.42" y2="212.2" stroke="#111" stroke-width="1" />
<line x1="429.29" y1="209.9" x2="429.29" y2="212.2" stroke="#111" stroke-width="1" />
<line x1="430.82" y1="209.9" x2="430.82" y2="212.2" stroke="#111" stroke-width="1" />
<line x1="432.11" y1="209.9" x2="432.11" y2="212.2" stroke="#111" stroke-width="1" />
<line x1="433.23" y1="209.9" x2="433.23" y2="212.2" stroke="#111" stroke-width="1" />
<line x1="434.22" y1="209.9" x2="434.22" y2="212.2" stroke="#111" stroke-width="1" />
<line x1="435.1" y1="209.9" x2="435.1" y2="213.2" stroke="#111" stroke-width="1" />
<line x1="440.91" y1="209.9" x2="440.91" y2="212.2" stroke="#111" stroke-width="1" />
<line x1="444.31" y1="209.9" x2="444.31" y2="212.2" stroke="#111" stroke-width="1" />
<line x1="446.72" y1="209.9" x2="446.72" y2="212.2" stroke="#111" stroke-width="1" />
<line x1="448.59" y1="209.9" x2="448.59" y2="212.2" stroke="#111" stroke-width="1" />
<line x1="450.12" y1="209.9" x2="450.12" y2="212.2" stroke="#111" stroke-width="1" />
<line x1="451.41" y1="209.9" x2="451.41" y2="212.2" stroke="#111" stroke-width="1" />
<line x1="452.53" y1="209.9" x2="452.53" y2="212.2" stroke="#111" stroke-width="1" />
<line x1="453.52" y1="209.9" x2="453.52" y2="212.2" stroke="#111" stroke-width="1" />
<line x1="454.4" y1="209.9" x2="454.4" y2="213.2" stroke="#111" stroke-width="1" />
<line x1="460.21" y1="209.9" x2="460.21" y2="212.2" stroke="#111" stroke-width="1" />
<line x1="463.61" y1="209.9" x2="463.61" y2="212.2" stroke="#111" stroke-width="1" />
<line x1="466.02" y1="209.9" x2="466.02" y2="212.2" stroke="#111" stroke-width="1" />
<line x1="467.89" y1="209.9" x2="467.89" y2="212.2" stroke="#111" stroke-width="1" />
<line x1="469.42" y1="209.9" x2="469.42" y2="212.2" stroke="#111" stroke-width="1" />
<line x1="470.71" y1="209.9" x2="470.71" y2="212.2" stroke="#111" stroke-width="1" />
<line x1="471.83" y1="209.9" x2="471.83" y2="212.2" stroke="#111" stroke-width="1" />
<line x1="472.82" y1="209.9" x2="472.82" y2="212.2" stroke="#111" stroke-width="1" />
<line x1="473.7" y1="209.9" x2="473.7" y2="213.2" stroke="#111" stroke-width="1" />
<line x1="479.51" y1="209.9" x2="479.51" y2="212.2" stroke="#111" stroke-width="1" />
<line x1="482.91" y1="209.9" x2="482.91" y2="212.2" stroke="#111" stroke-width="1" />
<line x1="485.32" y1="209.9" x2="485.32" y2="212.2" stroke="#111" stroke-width="1" />
<line x1="487.19" y1="209.9" x2="487.19" y2="212.2" stroke="#111" stroke-width="1" />
<line x1="488.72" y1="209.9" x2="488.72" y2="212.2" stroke="#111" stroke-width="1" />
<line x1="490.01" y1="209.9" x2="490.01" y2="212.2" stroke="#111" stroke-width="1" />
<line x1="491.13" y1="209.9" x2="491.13" y2="212.2" stroke="#111" stroke-width="1" />
<text x="400.5" y="163.05" font-size="9.3" text-anchor="start" fill="#231f20" stroke="#231f20" stroke-width="0.17" textLength="20.8" lengthAdjust="spacingAndGlyphs">H929</text>
<path d="M410 273.7 C411.35 273.56 415.02 273.28 417.5 272.9 C419.98 272.52 421.84 272.28 423.75 271.6 C425.66 270.92 426.63 270.11 428.1 269.1 C429.57 268.09 430.66 267.12 431.9 266 C433.14 264.88 434.1 264.14 435 262.9 C435.9 261.66 436.11 260.34 436.9 259.1 C437.69 257.86 438.62 257.23 439.4 256 C440.18 254.77 440.58 253.71 441.25 252.25 C441.92 250.79 442.53 249.58 443.1 247.9 C443.67 246.22 443.95 244.59 444.4 242.9 C444.85 241.21 445.27 239.97 445.6 238.5 C445.93 237.03 445.91 236.32 446.25 234.75 C446.59 233.18 447.1 231.78 447.5 229.75 C447.9 227.72 448.16 225.12 448.5 223.5 C448.84 221.88 449.02 220.53 449.4 220.75 C449.78 220.97 450.15 223.46 450.6 224.75 C451.05 226.04 451.56 226.55 451.9 227.9 C452.24 229.25 452.17 229.22 452.5 232.25 C452.83 235.28 453.19 240.25 453.75 244.75 C454.31 249.25 454.93 253.43 455.6 257.25 C456.28 261.07 456.71 263.42 457.5 266 C458.29 268.58 459.21 270.21 460 271.6 C460.79 272.99 461.56 273.32 461.9 273.7 L461.9 274 L410 274 Z" fill="#e9b3aa" stroke="none" stroke-width="1" />
<path d="M410 273.7 C411.35 273.56 415.02 273.28 417.5 272.9 C419.98 272.52 421.84 272.28 423.75 271.6 C425.66 270.92 426.63 270.11 428.1 269.1 C429.57 268.09 430.66 267.12 431.9 266 C433.14 264.88 434.1 264.14 435 262.9 C435.9 261.66 436.11 260.34 436.9 259.1 C437.69 257.86 438.62 257.23 439.4 256 C440.18 254.77 440.58 253.71 441.25 252.25 C441.92 250.79 442.53 249.58 443.1 247.9 C443.67 246.22 443.95 244.59 444.4 242.9 C444.85 241.21 445.27 239.97 445.6 238.5 C445.93 237.03 445.91 236.32 446.25 234.75 C446.59 233.18 447.1 231.78 447.5 229.75 C447.9 227.72 448.16 225.12 448.5 223.5 C448.84 221.88 449.02 220.53 449.4 220.75 C449.78 220.97 450.15 223.46 450.6 224.75 C451.05 226.04 451.56 226.55 451.9 227.9 C452.24 229.25 452.17 229.22 452.5 232.25 C452.83 235.28 453.19 240.25 453.75 244.75 C454.31 249.25 454.93 253.43 455.6 257.25 C456.28 261.07 456.71 263.42 457.5 266 C458.29 268.58 459.21 270.21 460 271.6 C460.79 272.99 461.56 273.32 461.9 273.7" fill="none" stroke="#c0223e" stroke-width="1.3" stroke-linejoin="round"/>
<path d="M423.75 273.7 C424.88 273.44 428.08 273.08 430 272.25 C431.92 271.42 433.05 270.23 434.4 269.1 C435.75 267.98 436.38 267.12 437.5 266 C438.62 264.88 439.48 263.91 440.6 262.9 C441.73 261.89 442.62 261.19 443.75 260.4 C444.88 259.61 446 259.29 446.9 258.5 C447.8 257.71 448.19 257.35 448.75 256 C449.31 254.65 449.55 253.7 450 251 C450.45 248.3 450.8 244.6 451.25 241 C451.7 237.4 452.05 234.26 452.5 231 C452.95 227.74 453.41 224.81 453.75 222.9 C454.09 220.99 454.07 220.07 454.4 220.4 C454.73 220.73 455.15 222.17 455.6 224.75 C456.05 227.33 456.45 230.7 456.9 234.75 C457.35 238.8 457.65 242.75 458.1 247.25 C458.55 251.75 458.83 255.93 459.4 259.75 C459.97 263.57 460.58 266.13 461.25 268.5 C461.92 270.87 462.53 271.96 463.1 272.9 C463.67 273.84 464.17 273.56 464.4 273.7 L464.4 274 L423.75 274 Z" fill="rgba(118,126,144,0.64)" stroke="none" stroke-width="1" />
<path d="M423.75 273.7 C424.88 273.44 428.08 273.08 430 272.25 C431.92 271.42 433.05 270.23 434.4 269.1 C435.75 267.98 436.38 267.12 437.5 266 C438.62 264.88 439.48 263.91 440.6 262.9 C441.73 261.89 442.62 261.19 443.75 260.4 C444.88 259.61 446 259.29 446.9 258.5 C447.8 257.71 448.19 257.35 448.75 256 C449.31 254.65 449.55 253.7 450 251 C450.45 248.3 450.8 244.6 451.25 241 C451.7 237.4 452.05 234.26 452.5 231 C452.95 227.74 453.41 224.81 453.75 222.9 C454.09 220.99 454.07 220.07 454.4 220.4 C454.73 220.73 455.15 222.17 455.6 224.75 C456.05 227.33 456.45 230.7 456.9 234.75 C457.35 238.8 457.65 242.75 458.1 247.25 C458.55 251.75 458.83 255.93 459.4 259.75 C459.97 263.57 460.58 266.13 461.25 268.5 C461.92 270.87 462.53 271.96 463.1 272.9 C463.67 273.84 464.17 273.56 464.4 273.7" fill="none" stroke="#4a5262" stroke-width="1.15" stroke-linejoin="round"/>
<rect x="396.5" y="216.6" width="95.2" height="57.4" fill="none" stroke="#111" stroke-width="1.2"/>
<line x1="393.1" y1="273.15" x2="396.5" y2="273.15" stroke="#111" stroke-width="0.9" />
<text x="389.9" y="276.03" font-size="9.4" text-anchor="end" fill="#231f20" stroke="#231f20" stroke-width="0.17" textLength="4.7" lengthAdjust="spacingAndGlyphs">0</text>
<line x1="395" y1="270.99" x2="396.5" y2="270.99" stroke="#111" stroke-width="0.6" />
<line x1="395" y1="268.83" x2="396.5" y2="268.83" stroke="#111" stroke-width="0.6" />
<line x1="395" y1="266.67" x2="396.5" y2="266.67" stroke="#111" stroke-width="0.6" />
<line x1="395" y1="264.51" x2="396.5" y2="264.51" stroke="#111" stroke-width="0.6" />
<line x1="393.1" y1="262.35" x2="396.5" y2="262.35" stroke="#111" stroke-width="0.9" />
<text x="389.9" y="265.23" font-size="9.4" text-anchor="end" fill="#231f20" stroke="#231f20" stroke-width="0.17" textLength="9.4" lengthAdjust="spacingAndGlyphs">20</text>
<line x1="395" y1="260.19" x2="396.5" y2="260.19" stroke="#111" stroke-width="0.6" />
<line x1="395" y1="258.03" x2="396.5" y2="258.03" stroke="#111" stroke-width="0.6" />
<line x1="395" y1="255.87" x2="396.5" y2="255.87" stroke="#111" stroke-width="0.6" />
<line x1="395" y1="253.71" x2="396.5" y2="253.71" stroke="#111" stroke-width="0.6" />
<line x1="393.1" y1="251.55" x2="396.5" y2="251.55" stroke="#111" stroke-width="0.9" />
<text x="389.9" y="254.43" font-size="9.4" text-anchor="end" fill="#231f20" stroke="#231f20" stroke-width="0.17" textLength="9.4" lengthAdjust="spacingAndGlyphs">40</text>
<line x1="395" y1="249.39" x2="396.5" y2="249.39" stroke="#111" stroke-width="0.6" />
<line x1="395" y1="247.23" x2="396.5" y2="247.23" stroke="#111" stroke-width="0.6" />
<line x1="395" y1="245.07" x2="396.5" y2="245.07" stroke="#111" stroke-width="0.6" />
<line x1="395" y1="242.91" x2="396.5" y2="242.91" stroke="#111" stroke-width="0.6" />
<line x1="393.1" y1="240.75" x2="396.5" y2="240.75" stroke="#111" stroke-width="0.9" />
<text x="389.9" y="243.63" font-size="9.4" text-anchor="end" fill="#231f20" stroke="#231f20" stroke-width="0.17" textLength="9.4" lengthAdjust="spacingAndGlyphs">60</text>
<line x1="395" y1="238.59" x2="396.5" y2="238.59" stroke="#111" stroke-width="0.6" />
<line x1="395" y1="236.43" x2="396.5" y2="236.43" stroke="#111" stroke-width="0.6" />
<line x1="395" y1="234.27" x2="396.5" y2="234.27" stroke="#111" stroke-width="0.6" />
<line x1="395" y1="232.11" x2="396.5" y2="232.11" stroke="#111" stroke-width="0.6" />
<line x1="393.1" y1="229.95" x2="396.5" y2="229.95" stroke="#111" stroke-width="0.9" />
<text x="389.9" y="232.83" font-size="9.4" text-anchor="end" fill="#231f20" stroke="#231f20" stroke-width="0.17" textLength="9.4" lengthAdjust="spacingAndGlyphs">80</text>
<line x1="395" y1="227.79" x2="396.5" y2="227.79" stroke="#111" stroke-width="0.6" />
<line x1="395" y1="225.63" x2="396.5" y2="225.63" stroke="#111" stroke-width="0.6" />
<line x1="395" y1="223.47" x2="396.5" y2="223.47" stroke="#111" stroke-width="0.6" />
<line x1="395" y1="221.31" x2="396.5" y2="221.31" stroke="#111" stroke-width="0.6" />
<line x1="393.1" y1="219.15" x2="396.5" y2="219.15" stroke="#111" stroke-width="0.9" />
<text x="389.9" y="222.03" font-size="9.4" text-anchor="end" fill="#231f20" stroke="#231f20" stroke-width="0.17" textLength="14.1" lengthAdjust="spacingAndGlyphs">100</text>
<line x1="396.5" y1="274" x2="396.5" y2="277.3" stroke="#111" stroke-width="1" />
<line x1="402.31" y1="274" x2="402.31" y2="276.3" stroke="#111" stroke-width="1" />
<line x1="405.71" y1="274" x2="405.71" y2="276.3" stroke="#111" stroke-width="1" />
<line x1="408.12" y1="274" x2="408.12" y2="276.3" stroke="#111" stroke-width="1" />
<line x1="409.99" y1="274" x2="409.99" y2="276.3" stroke="#111" stroke-width="1" />
<line x1="411.52" y1="274" x2="411.52" y2="276.3" stroke="#111" stroke-width="1" />
<line x1="412.81" y1="274" x2="412.81" y2="276.3" stroke="#111" stroke-width="1" />
<line x1="413.93" y1="274" x2="413.93" y2="276.3" stroke="#111" stroke-width="1" />
<line x1="414.92" y1="274" x2="414.92" y2="276.3" stroke="#111" stroke-width="1" />
<line x1="415.8" y1="274" x2="415.8" y2="277.3" stroke="#111" stroke-width="1" />
<line x1="421.61" y1="274" x2="421.61" y2="276.3" stroke="#111" stroke-width="1" />
<line x1="425.01" y1="274" x2="425.01" y2="276.3" stroke="#111" stroke-width="1" />
<line x1="427.42" y1="274" x2="427.42" y2="276.3" stroke="#111" stroke-width="1" />
<line x1="429.29" y1="274" x2="429.29" y2="276.3" stroke="#111" stroke-width="1" />
<line x1="430.82" y1="274" x2="430.82" y2="276.3" stroke="#111" stroke-width="1" />
<line x1="432.11" y1="274" x2="432.11" y2="276.3" stroke="#111" stroke-width="1" />
<line x1="433.23" y1="274" x2="433.23" y2="276.3" stroke="#111" stroke-width="1" />
<line x1="434.22" y1="274" x2="434.22" y2="276.3" stroke="#111" stroke-width="1" />
<line x1="435.1" y1="274" x2="435.1" y2="277.3" stroke="#111" stroke-width="1" />
<line x1="440.91" y1="274" x2="440.91" y2="276.3" stroke="#111" stroke-width="1" />
<line x1="444.31" y1="274" x2="444.31" y2="276.3" stroke="#111" stroke-width="1" />
<line x1="446.72" y1="274" x2="446.72" y2="276.3" stroke="#111" stroke-width="1" />
<line x1="448.59" y1="274" x2="448.59" y2="276.3" stroke="#111" stroke-width="1" />
<line x1="450.12" y1="274" x2="450.12" y2="276.3" stroke="#111" stroke-width="1" />
<line x1="451.41" y1="274" x2="451.41" y2="276.3" stroke="#111" stroke-width="1" />
<line x1="452.53" y1="274" x2="452.53" y2="276.3" stroke="#111" stroke-width="1" />
<line x1="453.52" y1="274" x2="453.52" y2="276.3" stroke="#111" stroke-width="1" />
<line x1="454.4" y1="274" x2="454.4" y2="277.3" stroke="#111" stroke-width="1" />
<line x1="460.21" y1="274" x2="460.21" y2="276.3" stroke="#111" stroke-width="1" />
<line x1="463.61" y1="274" x2="463.61" y2="276.3" stroke="#111" stroke-width="1" />
<line x1="466.02" y1="274" x2="466.02" y2="276.3" stroke="#111" stroke-width="1" />
<line x1="467.89" y1="274" x2="467.89" y2="276.3" stroke="#111" stroke-width="1" />
<line x1="469.42" y1="274" x2="469.42" y2="276.3" stroke="#111" stroke-width="1" />
<line x1="470.71" y1="274" x2="470.71" y2="276.3" stroke="#111" stroke-width="1" />
<line x1="471.83" y1="274" x2="471.83" y2="276.3" stroke="#111" stroke-width="1" />
<line x1="472.82" y1="274" x2="472.82" y2="276.3" stroke="#111" stroke-width="1" />
<line x1="473.7" y1="274" x2="473.7" y2="277.3" stroke="#111" stroke-width="1" />
<line x1="479.51" y1="274" x2="479.51" y2="276.3" stroke="#111" stroke-width="1" />
<line x1="482.91" y1="274" x2="482.91" y2="276.3" stroke="#111" stroke-width="1" />
<line x1="485.32" y1="274" x2="485.32" y2="276.3" stroke="#111" stroke-width="1" />
<line x1="487.19" y1="274" x2="487.19" y2="276.3" stroke="#111" stroke-width="1" />
<line x1="488.72" y1="274" x2="488.72" y2="276.3" stroke="#111" stroke-width="1" />
<line x1="490.01" y1="274" x2="490.01" y2="276.3" stroke="#111" stroke-width="1" />
<line x1="491.13" y1="274" x2="491.13" y2="276.3" stroke="#111" stroke-width="1" />
<text x="401.5" y="227.35" font-size="9.3" text-anchor="start" fill="#231f20" stroke="#231f20" stroke-width="0.17" textLength="26.3" lengthAdjust="spacingAndGlyphs">MM.1S</text>
<text x="401.9" y="50.21" font-size="9.2" text-anchor="start" fill="#c0223e" stroke="#c0223e" stroke-width="0.17" textLength="38.9" lengthAdjust="spacingAndGlyphs">BMSC-sup</text>
<line x1="443.9" y1="46.9" x2="452.5" y2="46.9" stroke="#c0223e" stroke-width="1.2" />
<path d="M455 46.9 L451.2 44.9 L451.2 48.9 Z" fill="#c0223e" stroke="none" stroke-width="1" />
<text x="411.9" y="61.01" font-size="9.2" text-anchor="start" fill="#231f20" stroke="#231f20" stroke-width="0.17" textLength="28" lengthAdjust="spacingAndGlyphs">Control</text>
<line x1="443.5" y1="57.7" x2="464" y2="57.7" stroke="#6a7488" stroke-width="1.2" />
<path d="M466.5 57.7 L462.7 55.7 L462.7 59.7 Z" fill="#6a7488" stroke="none" stroke-width="1" />
<text x="391.3" y="289.2" font-size="10" text-anchor="start" fill="#231f20" stroke="#231f20" stroke-width="0.06" textLength="8.4" lengthAdjust="spacingAndGlyphs">10</text>
<text x="400" y="285.49" font-size="7.2" text-anchor="start" fill="#231f20" stroke="#231f20" stroke-width="0.17" textLength="3.5" lengthAdjust="spacingAndGlyphs">0</text>
<text x="410.2" y="289.2" font-size="10" text-anchor="start" fill="#231f20" stroke="#231f20" stroke-width="0.06" textLength="8.4" lengthAdjust="spacingAndGlyphs">10</text>
<text x="418.9" y="285.49" font-size="7.2" text-anchor="start" fill="#231f20" stroke="#231f20" stroke-width="0.17" textLength="3.5" lengthAdjust="spacingAndGlyphs">1</text>
<text x="429.3" y="289.2" font-size="10" text-anchor="start" fill="#231f20" stroke="#231f20" stroke-width="0.06" textLength="8.4" lengthAdjust="spacingAndGlyphs">10</text>
<text x="438" y="285.49" font-size="7.2" text-anchor="start" fill="#231f20" stroke="#231f20" stroke-width="0.17" textLength="3.5" lengthAdjust="spacingAndGlyphs">2</text>
<text x="448.4" y="289.2" font-size="10" text-anchor="start" fill="#231f20" stroke="#231f20" stroke-width="0.06" textLength="8.4" lengthAdjust="spacingAndGlyphs">10</text>
<text x="457.1" y="285.49" font-size="7.2" text-anchor="start" fill="#231f20" stroke="#231f20" stroke-width="0.17" textLength="3.5" lengthAdjust="spacingAndGlyphs">3</text>
<text x="467.5" y="289.2" font-size="10" text-anchor="start" fill="#231f20" stroke="#231f20" stroke-width="0.06" textLength="8.4" lengthAdjust="spacingAndGlyphs">10</text>
<text x="476.2" y="285.49" font-size="7.2" text-anchor="start" fill="#231f20" stroke="#231f20" stroke-width="0.17" textLength="3.5" lengthAdjust="spacingAndGlyphs">4</text>
<line x1="392" y1="297.6" x2="489" y2="297.6" stroke="#111" stroke-width="1.5" />
<path d="M495.5 297.6 L487 293.6 L488.5 297.6 L487 301.6 Z" fill="#111" stroke="none" stroke-width="1" />
<text x="443.7" y="314.43" font-size="11.2" text-anchor="middle" fill="#231f20" stroke="#231f20" stroke-width="0.06" textLength="21" lengthAdjust="spacingAndGlyphs">CD38</text>
<text x="25" y="393.64" font-size="10.4" text-anchor="middle" fill="#231f20" stroke="#231f20" stroke-width="0.06" textLength="83.7" lengthAdjust="spacingAndGlyphs" transform="rotate(-90 25 389.9)">Relative CD38 MFI (%)</text>
<text x="158" y="336.6" font-size="10" text-anchor="middle" fill="#231f20" stroke="#231f20" stroke-width="0.06" textLength="54" lengthAdjust="spacingAndGlyphs">RPMI 8226</text>
<line x1="52.4" y1="444.25" x2="56.6" y2="444.25" stroke="#231f20" stroke-width="1" />
<text x="50" y="447.49" font-size="9" text-anchor="end" fill="#231f20" stroke="#231f20" stroke-width="0.17">0</text>
<line x1="52.4" y1="426.58" x2="56.6" y2="426.58" stroke="#231f20" stroke-width="1" />
<text x="50" y="429.82" font-size="9" text-anchor="end" fill="#231f20" stroke="#231f20" stroke-width="0.17">20</text>
<line x1="52.4" y1="408.92" x2="56.6" y2="408.92" stroke="#231f20" stroke-width="1" />
<text x="50" y="412.16" font-size="9" text-anchor="end" fill="#231f20" stroke="#231f20" stroke-width="0.17">40</text>
<line x1="52.4" y1="391.25" x2="56.6" y2="391.25" stroke="#231f20" stroke-width="1" />
<text x="50" y="394.49" font-size="9" text-anchor="end" fill="#231f20" stroke="#231f20" stroke-width="0.17">60</text>
<line x1="52.4" y1="373.58" x2="56.6" y2="373.58" stroke="#231f20" stroke-width="1" />
<text x="50" y="376.82" font-size="9" text-anchor="end" fill="#231f20" stroke="#231f20" stroke-width="0.17">80</text>
<line x1="52.4" y1="355.92" x2="56.6" y2="355.92" stroke="#231f20" stroke-width="1" />
<text x="50" y="359.16" font-size="9" text-anchor="end" fill="#231f20" stroke="#231f20" stroke-width="0.17">100</text>
<line x1="52.4" y1="338.25" x2="56.6" y2="338.25" stroke="#231f20" stroke-width="1" />
<text x="50" y="341.49" font-size="9" text-anchor="end" fill="#231f20" stroke="#231f20" stroke-width="0.17">120</text>
<rect x="62.3" y="355.92" width="5" height="88.33" fill="#4f5668" />
<line x1="64.8" y1="350" x2="64.8" y2="355.92" stroke="#4f5668" stroke-width="0.9" />
<line x1="62.7" y1="350" x2="66.9" y2="350" stroke="#4f5668" stroke-width="1" />
<rect x="68.3" y="352.7" width="5.3" height="91.55" fill="#a8002a" />
<line x1="70.95" y1="350" x2="70.95" y2="352.7" stroke="#a8002a" stroke-width="0.9" />
<line x1="68.85" y1="350" x2="73.05" y2="350" stroke="#a8002a" stroke-width="1" />
<rect x="74.6" y="356.5" width="5.1" height="87.75" fill="#2e4c80" />
<line x1="77.15" y1="354.2" x2="77.15" y2="356.5" stroke="#2e4c80" stroke-width="0.9" />
<line x1="75.05" y1="354.2" x2="79.25" y2="354.2" stroke="#2e4c80" stroke-width="1" />
<text x="70.8" y="348.23" font-size="6.2" text-anchor="middle" fill="#231f20" stroke="#231f20" stroke-width="0.17">N</text>
<text x="77.1" y="348.23" font-size="6.2" text-anchor="middle" fill="#231f20" stroke="#231f20" stroke-width="0.17">N</text>
<text x="71.16" y="459.3" font-size="8.6" text-anchor="middle" fill="#231f20" stroke="#231f20" stroke-width="0.17" textLength="17.2" lengthAdjust="spacingAndGlyphs">24 h</text>
<rect x="90.63" y="355.92" width="5" height="88.33" fill="#4f5668" />
<line x1="93.13" y1="353.5" x2="93.13" y2="355.92" stroke="#4f5668" stroke-width="0.9" />
<line x1="91.03" y1="353.5" x2="95.23" y2="353.5" stroke="#4f5668" stroke-width="1" />
<rect x="96.63" y="374.2" width="5.3" height="70.05" fill="#a8002a" />
<line x1="99.28" y1="372.2" x2="99.28" y2="374.2" stroke="#a8002a" stroke-width="0.9" />
<line x1="97.18" y1="372.2" x2="101.38" y2="372.2" stroke="#a8002a" stroke-width="1" />
<rect x="102.93" y="377.6" width="5.1" height="66.65" fill="#2e4c80" />
<line x1="105.48" y1="374.2" x2="105.48" y2="377.6" stroke="#2e4c80" stroke-width="0.9" />
<line x1="103.38" y1="374.2" x2="107.58" y2="374.2" stroke="#2e4c80" stroke-width="1" />
<path d="M99.28 365.61 L99.28 367.99 M98.25 366.21 L100.31 367.39 M100.31 366.21 L98.25 367.39 " stroke="#231f20" stroke-width="0.85" stroke-linecap="round"/>
<path d="M99.28 362.11 L99.28 364.49 M98.25 362.71 L100.31 363.89 M100.31 362.71 L98.25 363.89 " stroke="#231f20" stroke-width="0.85" stroke-linecap="round"/>
<path d="M105.48 367.81 L105.48 370.19 M104.45 368.41 L106.51 369.59 M106.51 368.41 L104.45 369.59 " stroke="#231f20" stroke-width="0.85" stroke-linecap="round"/>
<path d="M105.48 364.31 L105.48 366.69 M104.45 364.91 L106.51 366.09 M106.51 364.91 L104.45 366.09 " stroke="#231f20" stroke-width="0.85" stroke-linecap="round"/>
<path d="M105.48 360.81 L105.48 363.19 M104.45 361.41 L106.51 362.59 M106.51 361.41 L104.45 362.59 " stroke="#231f20" stroke-width="0.85" stroke-linecap="round"/>
<text x="99.5" y="459.3" font-size="8.6" text-anchor="middle" fill="#231f20" stroke="#231f20" stroke-width="0.17" textLength="17.2" lengthAdjust="spacingAndGlyphs">48 h</text>
<rect x="118.96" y="355.92" width="5" height="88.33" fill="#4f5668" />
<line x1="121.46" y1="351.7" x2="121.46" y2="355.92" stroke="#4f5668" stroke-width="0.9" />
<line x1="119.36" y1="351.7" x2="123.56" y2="351.7" stroke="#4f5668" stroke-width="1" />
<rect x="124.96" y="399.6" width="5.3" height="44.65" fill="#a8002a" />
<line x1="127.61" y1="398.4" x2="127.61" y2="399.6" stroke="#a8002a" stroke-width="0.9" />
<line x1="125.51" y1="398.4" x2="129.71" y2="398.4" stroke="#a8002a" stroke-width="1" />
<rect x="131.26" y="400.4" width="5.1" height="43.85" fill="#2e4c80" />
<line x1="133.81" y1="399.5" x2="133.81" y2="400.4" stroke="#2e4c80" stroke-width="0.9" />
<line x1="131.71" y1="399.5" x2="135.91" y2="399.5" stroke="#2e4c80" stroke-width="1" />
<path d="M127.61 393.31 L127.61 395.69 M126.58 393.91 L128.64 395.09 M128.64 393.91 L126.58 395.09 " stroke="#231f20" stroke-width="0.85" stroke-linecap="round"/>
<path d="M127.61 389.81 L127.61 392.19 M126.58 390.41 L128.64 391.59 M128.64 390.41 L126.58 391.59 " stroke="#231f20" stroke-width="0.85" stroke-linecap="round"/>
<path d="M133.81 393.31 L133.81 395.69 M132.78 393.91 L134.84 395.09 M134.84 393.91 L132.78 395.09 " stroke="#231f20" stroke-width="0.85" stroke-linecap="round"/>
<path d="M133.81 389.81 L133.81 392.19 M132.78 390.41 L134.84 391.59 M134.84 390.41 L132.78 391.59 " stroke="#231f20" stroke-width="0.85" stroke-linecap="round"/>
<text x="127.82" y="459.3" font-size="8.6" text-anchor="middle" fill="#231f20" stroke="#231f20" stroke-width="0.17" textLength="17.2" lengthAdjust="spacingAndGlyphs">72 h</text>
<rect x="147.29" y="355.92" width="5" height="88.33" fill="#4f5668" />
<line x1="149.79" y1="354.4" x2="149.79" y2="355.92" stroke="#4f5668" stroke-width="0.9" />
<line x1="147.69" y1="354.4" x2="151.89" y2="354.4" stroke="#4f5668" stroke-width="1" />
<rect x="153.29" y="417.1" width="5.3" height="27.15" fill="#a8002a" />
<line x1="155.94" y1="416" x2="155.94" y2="417.1" stroke="#a8002a" stroke-width="0.9" />
<line x1="153.84" y1="416" x2="158.04" y2="416" stroke="#a8002a" stroke-width="1" />
<rect x="159.59" y="418.5" width="5.1" height="25.75" fill="#2e4c80" />
<line x1="162.14" y1="417.8" x2="162.14" y2="418.5" stroke="#2e4c80" stroke-width="0.9" />
<line x1="160.04" y1="417.8" x2="164.24" y2="417.8" stroke="#2e4c80" stroke-width="1" />
<path d="M155.94 410.81 L155.94 413.19 M154.91 411.41 L156.97 412.59 M156.97 411.41 L154.91 412.59 " stroke="#231f20" stroke-width="0.85" stroke-linecap="round"/>
<path d="M155.94 407.31 L155.94 409.69 M154.91 407.91 L156.97 409.09 M156.97 407.91 L154.91 409.09 " stroke="#231f20" stroke-width="0.85" stroke-linecap="round"/>
<path d="M155.94 403.81 L155.94 406.19 M154.91 404.41 L156.97 405.59 M156.97 404.41 L154.91 405.59 " stroke="#231f20" stroke-width="0.85" stroke-linecap="round"/>
<path d="M162.14 410.81 L162.14 413.19 M161.11 411.41 L163.17 412.59 M163.17 411.41 L161.11 412.59 " stroke="#231f20" stroke-width="0.85" stroke-linecap="round"/>
<path d="M162.14 407.31 L162.14 409.69 M161.11 407.91 L163.17 409.09 M163.17 407.91 L161.11 409.09 " stroke="#231f20" stroke-width="0.85" stroke-linecap="round"/>
<path d="M162.14 403.81 L162.14 406.19 M161.11 404.41 L163.17 405.59 M163.17 404.41 L161.11 405.59 " stroke="#231f20" stroke-width="0.85" stroke-linecap="round"/>
<text x="156.16" y="459.3" font-size="8.6" text-anchor="middle" fill="#231f20" stroke="#231f20" stroke-width="0.17" textLength="17.2" lengthAdjust="spacingAndGlyphs">96 h</text>
<rect x="175.62" y="355.92" width="5" height="88.33" fill="#4f5668" />
<line x1="178.12" y1="351.7" x2="178.12" y2="355.92" stroke="#4f5668" stroke-width="0.9" />
<line x1="176.02" y1="351.7" x2="180.22" y2="351.7" stroke="#4f5668" stroke-width="1" />
<rect x="181.62" y="424.4" width="5.3" height="19.85" fill="#a8002a" />
<line x1="184.27" y1="423.2" x2="184.27" y2="424.4" stroke="#a8002a" stroke-width="0.9" />
<line x1="182.17" y1="423.2" x2="186.37" y2="423.2" stroke="#a8002a" stroke-width="1" />
<rect x="187.92" y="425.2" width="5.1" height="19.05" fill="#2e4c80" />
<line x1="190.47" y1="424.6" x2="190.47" y2="425.2" stroke="#2e4c80" stroke-width="0.9" />
<line x1="188.37" y1="424.6" x2="192.57" y2="424.6" stroke="#2e4c80" stroke-width="1" />
<path d="M184.27 416.31 L184.27 418.69 M183.24 416.91 L185.3 418.09 M185.3 416.91 L183.24 418.09 " stroke="#231f20" stroke-width="0.85" stroke-linecap="round"/>
<path d="M184.27 412.81 L184.27 415.19 M183.24 413.41 L185.3 414.59 M185.3 413.41 L183.24 414.59 " stroke="#231f20" stroke-width="0.85" stroke-linecap="round"/>
<path d="M190.47 416.31 L190.47 418.69 M189.44 416.91 L191.5 418.09 M191.5 416.91 L189.44 418.09 " stroke="#231f20" stroke-width="0.85" stroke-linecap="round"/>
<path d="M190.47 412.81 L190.47 415.19 M189.44 413.41 L191.5 414.59 M191.5 413.41 L189.44 414.59 " stroke="#231f20" stroke-width="0.85" stroke-linecap="round"/>
<text x="184.48" y="459.3" font-size="8.6" text-anchor="middle" fill="#231f20" stroke="#231f20" stroke-width="0.17" textLength="22" lengthAdjust="spacingAndGlyphs">120 h</text>
<rect x="203.95" y="355.92" width="5" height="88.33" fill="#4f5668" />
<line x1="206.45" y1="352.3" x2="206.45" y2="355.92" stroke="#4f5668" stroke-width="0.9" />
<line x1="204.35" y1="352.3" x2="208.55" y2="352.3" stroke="#4f5668" stroke-width="1" />
<rect x="209.95" y="427.8" width="5.3" height="16.45" fill="#a8002a" />
<line x1="212.6" y1="426" x2="212.6" y2="427.8" stroke="#a8002a" stroke-width="0.9" />
<line x1="210.5" y1="426" x2="214.7" y2="426" stroke="#a8002a" stroke-width="1" />
<rect x="216.25" y="430.5" width="5.1" height="13.75" fill="#2e4c80" />
<line x1="218.8" y1="430" x2="218.8" y2="430.5" stroke="#2e4c80" stroke-width="0.9" />
<line x1="216.7" y1="430" x2="220.9" y2="430" stroke="#2e4c80" stroke-width="1" />
<path d="M212.6 418.31 L212.6 420.69 M211.57 418.91 L213.63 420.09 M213.63 418.91 L211.57 420.09 " stroke="#231f20" stroke-width="0.85" stroke-linecap="round"/>
<path d="M212.6 414.81 L212.6 417.19 M211.57 415.41 L213.63 416.59 M213.63 415.41 L211.57 416.59 " stroke="#231f20" stroke-width="0.85" stroke-linecap="round"/>
<path d="M212.6 411.31 L212.6 413.69 M211.57 411.91 L213.63 413.09 M213.63 411.91 L211.57 413.09 " stroke="#231f20" stroke-width="0.85" stroke-linecap="round"/>
<path d="M218.8 418.31 L218.8 420.69 M217.77 418.91 L219.83 420.09 M219.83 418.91 L217.77 420.09 " stroke="#231f20" stroke-width="0.85" stroke-linecap="round"/>
<path d="M218.8 414.81 L218.8 417.19 M217.77 415.41 L219.83 416.59 M219.83 415.41 L217.77 416.59 " stroke="#231f20" stroke-width="0.85" stroke-linecap="round"/>
<path d="M218.8 411.31 L218.8 413.69 M217.77 411.91 L219.83 413.09 M219.83 411.91 L217.77 413.09 " stroke="#231f20" stroke-width="0.85" stroke-linecap="round"/>
<text x="212.81" y="459.3" font-size="8.6" text-anchor="middle" fill="#231f20" stroke="#231f20" stroke-width="0.17" textLength="22" lengthAdjust="spacingAndGlyphs">144 h</text>
<rect x="232.28" y="355.92" width="5" height="88.33" fill="#4f5668" />
<line x1="234.78" y1="348.2" x2="234.78" y2="355.92" stroke="#4f5668" stroke-width="0.9" />
<line x1="232.68" y1="348.2" x2="236.88" y2="348.2" stroke="#4f5668" stroke-width="1" />
<rect x="238.28" y="429.6" width="5.3" height="14.65" fill="#a8002a" />
<line x1="240.93" y1="429" x2="240.93" y2="429.6" stroke="#a8002a" stroke-width="0.9" />
<line x1="238.83" y1="429" x2="243.03" y2="429" stroke="#a8002a" stroke-width="1" />
<rect x="244.58" y="426.9" width="5.1" height="17.35" fill="#2e4c80" />
<line x1="247.13" y1="422.4" x2="247.13" y2="426.9" stroke="#2e4c80" stroke-width="0.9" />
<line x1="245.03" y1="422.4" x2="249.23" y2="422.4" stroke="#2e4c80" stroke-width="1" />
<path d="M240.93 415.81 L240.93 418.19 M239.9 416.41 L241.96 417.59 M241.96 416.41 L239.9 417.59 " stroke="#231f20" stroke-width="0.85" stroke-linecap="round"/>
<path d="M240.93 412.31 L240.93 414.69 M239.9 412.91 L241.96 414.09 M241.96 412.91 L239.9 414.09 " stroke="#231f20" stroke-width="0.85" stroke-linecap="round"/>
<path d="M240.93 408.81 L240.93 411.19 M239.9 409.41 L241.96 410.59 M241.96 409.41 L239.9 410.59 " stroke="#231f20" stroke-width="0.85" stroke-linecap="round"/>
<path d="M247.13 415.81 L247.13 418.19 M246.1 416.41 L248.16 417.59 M248.16 416.41 L246.1 417.59 " stroke="#231f20" stroke-width="0.85" stroke-linecap="round"/>
<path d="M247.13 412.31 L247.13 414.69 M246.1 412.91 L248.16 414.09 M248.16 412.91 L246.1 414.09 " stroke="#231f20" stroke-width="0.85" stroke-linecap="round"/>
<path d="M247.13 408.81 L247.13 411.19 M246.1 409.41 L248.16 410.59 M248.16 409.41 L246.1 410.59 " stroke="#231f20" stroke-width="0.85" stroke-linecap="round"/>
<text x="241.14" y="459.3" font-size="8.6" text-anchor="middle" fill="#231f20" stroke="#231f20" stroke-width="0.17" textLength="22" lengthAdjust="spacingAndGlyphs">168 h</text>
<line x1="56.6" y1="335.5" x2="56.6" y2="444.95" stroke="#231f20" stroke-width="1.5" />
<line x1="55.9" y1="444.65" x2="257.5" y2="444.65" stroke="#231f20" stroke-width="1.5" />
<line x1="56.6" y1="444.25" x2="56.6" y2="447.55" stroke="#231f20" stroke-width="1.1" />
<line x1="85.33" y1="444.25" x2="85.33" y2="447.55" stroke="#231f20" stroke-width="1.1" />
<line x1="113.66" y1="444.25" x2="113.66" y2="447.55" stroke="#231f20" stroke-width="1.1" />
<line x1="141.99" y1="444.25" x2="141.99" y2="447.55" stroke="#231f20" stroke-width="1.1" />
<line x1="170.32" y1="444.25" x2="170.32" y2="447.55" stroke="#231f20" stroke-width="1.1" />
<line x1="198.65" y1="444.25" x2="198.65" y2="447.55" stroke="#231f20" stroke-width="1.1" />
<line x1="226.98" y1="444.25" x2="226.98" y2="447.55" stroke="#231f20" stroke-width="1.1" />
<line x1="255.31" y1="444.25" x2="255.31" y2="447.55" stroke="#231f20" stroke-width="1.1" />
<rect x="69.2" y="466.6" width="5" height="5" fill="#4f5668" />
<text x="77.7" y="471.75" font-size="8.2" text-anchor="start" fill="#231f20" stroke="#231f20" stroke-width="0.17" textLength="27.5" lengthAdjust="spacingAndGlyphs">Control</text>
<rect x="116.2" y="466.6" width="5" height="5" fill="#a8002a" />
<text x="124.6" y="471.75" font-size="8.2" text-anchor="start" fill="#231f20" stroke="#231f20" stroke-width="0.17" textLength="51.6" lengthAdjust="spacingAndGlyphs">BMSC-sup #1</text>
<rect x="186.8" y="466.6" width="5" height="5" fill="#2e4c80" />
<text x="194.4" y="471.75" font-size="8.2" text-anchor="start" fill="#231f20" stroke="#231f20" stroke-width="0.17" textLength="51.6" lengthAdjust="spacingAndGlyphs">BMSC-sup #2</text>
<text x="281.3" y="393.14" font-size="10.4" text-anchor="middle" fill="#231f20" stroke="#231f20" stroke-width="0.06" textLength="83.7" lengthAdjust="spacingAndGlyphs" transform="rotate(-90 281.3 389.4)">Relative CD38 MFI (%)</text>
<text x="412.7" y="335.7" font-size="10" text-anchor="middle" fill="#231f20" stroke="#231f20" stroke-width="0.06" textLength="39.5" lengthAdjust="spacingAndGlyphs">MOLP-8</text>
<line x1="308.8" y1="444.5" x2="313" y2="444.5" stroke="#231f20" stroke-width="1" />
<text x="306.4" y="447.74" font-size="9" text-anchor="end" fill="#231f20" stroke="#231f20" stroke-width="0.17">0</text>
<line x1="308.8" y1="426.75" x2="313" y2="426.75" stroke="#231f20" stroke-width="1" />
<text x="306.4" y="429.99" font-size="9" text-anchor="end" fill="#231f20" stroke="#231f20" stroke-width="0.17">20</text>
<line x1="308.8" y1="409" x2="313" y2="409" stroke="#231f20" stroke-width="1" />
<text x="306.4" y="412.24" font-size="9" text-anchor="end" fill="#231f20" stroke="#231f20" stroke-width="0.17">40</text>
<line x1="308.8" y1="391.25" x2="313" y2="391.25" stroke="#231f20" stroke-width="1" />
<text x="306.4" y="394.49" font-size="9" text-anchor="end" fill="#231f20" stroke="#231f20" stroke-width="0.17">60</text>
<line x1="308.8" y1="373.5" x2="313" y2="373.5" stroke="#231f20" stroke-width="1" />
<text x="306.4" y="376.74" font-size="9" text-anchor="end" fill="#231f20" stroke="#231f20" stroke-width="0.17">80</text>
<line x1="308.8" y1="355.75" x2="313" y2="355.75" stroke="#231f20" stroke-width="1" />
<text x="306.4" y="358.99" font-size="9" text-anchor="end" fill="#231f20" stroke="#231f20" stroke-width="0.17">100</text>
<line x1="308.8" y1="338" x2="313" y2="338" stroke="#231f20" stroke-width="1" />
<text x="306.4" y="341.24" font-size="9" text-anchor="end" fill="#231f20" stroke="#231f20" stroke-width="0.17">120</text>
<rect x="318.3" y="355.75" width="5" height="88.75" fill="#4f5668" />
<line x1="320.8" y1="354.5" x2="320.8" y2="355.75" stroke="#4f5668" stroke-width="0.9" />
<line x1="318.7" y1="354.5" x2="322.9" y2="354.5" stroke="#4f5668" stroke-width="1" />
<rect x="324.3" y="370.75" width="5.3" height="73.75" fill="#a8002a" />
<line x1="326.95" y1="369.25" x2="326.95" y2="370.75" stroke="#a8002a" stroke-width="0.9" />
<line x1="324.85" y1="369.25" x2="329.05" y2="369.25" stroke="#a8002a" stroke-width="1" />
<rect x="330.6" y="373" width="5.1" height="71.5" fill="#2e4c80" />
<line x1="333.15" y1="371.25" x2="333.15" y2="373" stroke="#2e4c80" stroke-width="0.9" />
<line x1="331.05" y1="371.25" x2="335.25" y2="371.25" stroke="#2e4c80" stroke-width="1" />
<path d="M326.95 363.81 L326.95 366.19 M325.92 364.41 L327.98 365.59 M327.98 364.41 L325.92 365.59 " stroke="#231f20" stroke-width="0.85" stroke-linecap="round"/>
<path d="M326.95 360.31 L326.95 362.69 M325.92 360.91 L327.98 362.09 M327.98 360.91 L325.92 362.09 " stroke="#231f20" stroke-width="0.85" stroke-linecap="round"/>
<path d="M326.95 356.81 L326.95 359.19 M325.92 357.41 L327.98 358.59 M327.98 357.41 L325.92 358.59 " stroke="#231f20" stroke-width="0.85" stroke-linecap="round"/>
<path d="M333.15 363.81 L333.15 366.19 M332.12 364.41 L334.18 365.59 M334.18 364.41 L332.12 365.59 " stroke="#231f20" stroke-width="0.85" stroke-linecap="round"/>
<path d="M333.15 360.31 L333.15 362.69 M332.12 360.91 L334.18 362.09 M334.18 360.91 L332.12 362.09 " stroke="#231f20" stroke-width="0.85" stroke-linecap="round"/>
<path d="M333.15 356.81 L333.15 359.19 M332.12 357.41 L334.18 358.59 M334.18 357.41 L332.12 358.59 " stroke="#231f20" stroke-width="0.85" stroke-linecap="round"/>
<text x="326.96" y="459.1" font-size="8.6" text-anchor="middle" fill="#231f20" stroke="#231f20" stroke-width="0.17" textLength="17.2" lengthAdjust="spacingAndGlyphs">24 h</text>
<rect x="346.23" y="355.75" width="5" height="88.75" fill="#4f5668" />
<line x1="348.73" y1="353.75" x2="348.73" y2="355.75" stroke="#4f5668" stroke-width="0.9" />
<line x1="346.63" y1="353.75" x2="350.83" y2="353.75" stroke="#4f5668" stroke-width="1" />
<rect x="352.23" y="389.5" width="5.3" height="55" fill="#a8002a" />
<line x1="354.88" y1="387" x2="354.88" y2="389.5" stroke="#a8002a" stroke-width="0.9" />
<line x1="352.78" y1="387" x2="356.98" y2="387" stroke="#a8002a" stroke-width="1" />
<rect x="358.53" y="389.5" width="5.1" height="55" fill="#2e4c80" />
<line x1="361.08" y1="389" x2="361.08" y2="389.5" stroke="#2e4c80" stroke-width="0.9" />
<line x1="358.98" y1="389" x2="363.18" y2="389" stroke="#2e4c80" stroke-width="1" />
<path d="M354.88 381.31 L354.88 383.69 M353.85 381.91 L355.91 383.09 M355.91 381.91 L353.85 383.09 " stroke="#231f20" stroke-width="0.85" stroke-linecap="round"/>
<path d="M354.88 377.81 L354.88 380.19 M353.85 378.41 L355.91 379.59 M355.91 378.41 L353.85 379.59 " stroke="#231f20" stroke-width="0.85" stroke-linecap="round"/>
<path d="M354.88 374.31 L354.88 376.69 M353.85 374.91 L355.91 376.09 M355.91 374.91 L353.85 376.09 " stroke="#231f20" stroke-width="0.85" stroke-linecap="round"/>
<path d="M361.08 381.31 L361.08 383.69 M360.05 381.91 L362.11 383.09 M362.11 381.91 L360.05 383.09 " stroke="#231f20" stroke-width="0.85" stroke-linecap="round"/>
<path d="M361.08 377.81 L361.08 380.19 M360.05 378.41 L362.11 379.59 M362.11 378.41 L360.05 379.59 " stroke="#231f20" stroke-width="0.85" stroke-linecap="round"/>
<path d="M361.08 374.31 L361.08 376.69 M360.05 374.91 L362.11 376.09 M362.11 374.91 L360.05 376.09 " stroke="#231f20" stroke-width="0.85" stroke-linecap="round"/>
<text x="354.89" y="459.1" font-size="8.6" text-anchor="middle" fill="#231f20" stroke="#231f20" stroke-width="0.17" textLength="17.2" lengthAdjust="spacingAndGlyphs">48 h</text>
<rect x="374.16" y="355.75" width="5" height="88.75" fill="#4f5668" />
<line x1="376.66" y1="351.25" x2="376.66" y2="355.75" stroke="#4f5668" stroke-width="0.9" />
<line x1="374.56" y1="351.25" x2="378.76" y2="351.25" stroke="#4f5668" stroke-width="1" />
<rect x="380.16" y="399.5" width="5.3" height="45" fill="#a8002a" />
<line x1="382.81" y1="398.25" x2="382.81" y2="399.5" stroke="#a8002a" stroke-width="0.9" />
<line x1="380.71" y1="398.25" x2="384.91" y2="398.25" stroke="#a8002a" stroke-width="1" />
<rect x="386.46" y="400.75" width="5.1" height="43.75" fill="#2e4c80" />
<line x1="389.01" y1="400.2" x2="389.01" y2="400.75" stroke="#2e4c80" stroke-width="0.9" />
<line x1="386.91" y1="400.2" x2="391.11" y2="400.2" stroke="#2e4c80" stroke-width="1" />
<path d="M382.81 392.31 L382.81 394.69 M381.78 392.91 L383.84 394.09 M383.84 392.91 L381.78 394.09 " stroke="#231f20" stroke-width="0.85" stroke-linecap="round"/>
<path d="M382.81 388.81 L382.81 391.19 M381.78 389.41 L383.84 390.59 M383.84 389.41 L381.78 390.59 " stroke="#231f20" stroke-width="0.85" stroke-linecap="round"/>
<path d="M389.01 392.31 L389.01 394.69 M387.98 392.91 L390.04 394.09 M390.04 392.91 L387.98 394.09 " stroke="#231f20" stroke-width="0.85" stroke-linecap="round"/>
<path d="M389.01 388.81 L389.01 391.19 M387.98 389.41 L390.04 390.59 M390.04 389.41 L387.98 390.59 " stroke="#231f20" stroke-width="0.85" stroke-linecap="round"/>
<text x="382.82" y="459.1" font-size="8.6" text-anchor="middle" fill="#231f20" stroke="#231f20" stroke-width="0.17" textLength="17.2" lengthAdjust="spacingAndGlyphs">72 h</text>
<rect x="402.09" y="355.75" width="5" height="88.75" fill="#4f5668" />
<line x1="404.59" y1="355" x2="404.59" y2="355.75" stroke="#4f5668" stroke-width="0.9" />
<line x1="402.49" y1="355" x2="406.69" y2="355" stroke="#4f5668" stroke-width="1" />
<rect x="408.09" y="405.6" width="5.3" height="38.9" fill="#a8002a" />
<line x1="410.74" y1="403.5" x2="410.74" y2="405.6" stroke="#a8002a" stroke-width="0.9" />
<line x1="408.64" y1="403.5" x2="412.84" y2="403.5" stroke="#a8002a" stroke-width="1" />
<rect x="414.39" y="407" width="5.1" height="37.5" fill="#2e4c80" />
<line x1="416.94" y1="406.5" x2="416.94" y2="407" stroke="#2e4c80" stroke-width="0.9" />
<line x1="414.84" y1="406.5" x2="419.04" y2="406.5" stroke="#2e4c80" stroke-width="1" />
<path d="M410.74 397.81 L410.74 400.19 M409.71 398.41 L411.77 399.59 M411.77 398.41 L409.71 399.59 " stroke="#231f20" stroke-width="0.85" stroke-linecap="round"/>
<path d="M410.74 394.31 L410.74 396.69 M409.71 394.91 L411.77 396.09 M411.77 394.91 L409.71 396.09 " stroke="#231f20" stroke-width="0.85" stroke-linecap="round"/>
<path d="M410.74 390.81 L410.74 393.19 M409.71 391.41 L411.77 392.59 M411.77 391.41 L409.71 392.59 " stroke="#231f20" stroke-width="0.85" stroke-linecap="round"/>
<path d="M416.94 397.81 L416.94 400.19 M415.91 398.41 L417.97 399.59 M417.97 398.41 L415.91 399.59 " stroke="#231f20" stroke-width="0.85" stroke-linecap="round"/>
<path d="M416.94 394.31 L416.94 396.69 M415.91 394.91 L417.97 396.09 M417.97 394.91 L415.91 396.09 " stroke="#231f20" stroke-width="0.85" stroke-linecap="round"/>
<path d="M416.94 390.81 L416.94 393.19 M415.91 391.41 L417.97 392.59 M417.97 391.41 L415.91 392.59 " stroke="#231f20" stroke-width="0.85" stroke-linecap="round"/>
<text x="410.75" y="459.1" font-size="8.6" text-anchor="middle" fill="#231f20" stroke="#231f20" stroke-width="0.17" textLength="17.2" lengthAdjust="spacingAndGlyphs">96 h</text>
<rect x="430.02" y="355.75" width="5" height="88.75" fill="#4f5668" />
<line x1="432.52" y1="350.2" x2="432.52" y2="355.75" stroke="#4f5668" stroke-width="0.9" />
<line x1="430.42" y1="350.2" x2="434.62" y2="350.2" stroke="#4f5668" stroke-width="1" />
<rect x="436.02" y="410.2" width="5.3" height="34.3" fill="#a8002a" />
<line x1="438.67" y1="408" x2="438.67" y2="410.2" stroke="#a8002a" stroke-width="0.9" />
<line x1="436.57" y1="408" x2="440.77" y2="408" stroke="#a8002a" stroke-width="1" />
<rect x="442.32" y="412.9" width="5.1" height="31.6" fill="#2e4c80" />
<line x1="444.87" y1="410.7" x2="444.87" y2="412.9" stroke="#2e4c80" stroke-width="0.9" />
<line x1="442.77" y1="410.7" x2="446.97" y2="410.7" stroke="#2e4c80" stroke-width="1" />
<path d="M438.67 403.81 L438.67 406.19 M437.64 404.41 L439.7 405.59 M439.7 404.41 L437.64 405.59 " stroke="#231f20" stroke-width="0.85" stroke-linecap="round"/>
<path d="M438.67 400.31 L438.67 402.69 M437.64 400.91 L439.7 402.09 M439.7 400.91 L437.64 402.09 " stroke="#231f20" stroke-width="0.85" stroke-linecap="round"/>
<path d="M444.87 403.81 L444.87 406.19 M443.84 404.41 L445.9 405.59 M445.9 404.41 L443.84 405.59 " stroke="#231f20" stroke-width="0.85" stroke-linecap="round"/>
<path d="M444.87 400.31 L444.87 402.69 M443.84 400.91 L445.9 402.09 M445.9 400.91 L443.84 402.09 " stroke="#231f20" stroke-width="0.85" stroke-linecap="round"/>
<path d="M444.87 396.81 L444.87 399.19 M443.84 397.41 L445.9 398.59 M445.9 397.41 L443.84 398.59 " stroke="#231f20" stroke-width="0.85" stroke-linecap="round"/>
<text x="438.69" y="459.1" font-size="8.6" text-anchor="middle" fill="#231f20" stroke="#231f20" stroke-width="0.17" textLength="22" lengthAdjust="spacingAndGlyphs">120 h</text>
<rect x="457.95" y="355.75" width="5" height="88.75" fill="#4f5668" />
<line x1="460.45" y1="354.2" x2="460.45" y2="355.75" stroke="#4f5668" stroke-width="0.9" />
<line x1="458.35" y1="354.2" x2="462.55" y2="354.2" stroke="#4f5668" stroke-width="1" />
<rect x="463.95" y="411" width="5.3" height="33.5" fill="#a8002a" />
<line x1="466.6" y1="410" x2="466.6" y2="411" stroke="#a8002a" stroke-width="0.9" />
<line x1="464.5" y1="410" x2="468.7" y2="410" stroke="#a8002a" stroke-width="1" />
<rect x="470.25" y="412" width="5.1" height="32.5" fill="#2e4c80" />
<line x1="472.8" y1="411.5" x2="472.8" y2="412" stroke="#2e4c80" stroke-width="0.9" />
<line x1="470.7" y1="411.5" x2="474.9" y2="411.5" stroke="#2e4c80" stroke-width="1" />
<path d="M466.6 402.81 L466.6 405.19 M465.57 403.41 L467.63 404.59 M467.63 403.41 L465.57 404.59 " stroke="#231f20" stroke-width="0.85" stroke-linecap="round"/>
<path d="M466.6 399.31 L466.6 401.69 M465.57 399.91 L467.63 401.09 M467.63 399.91 L465.57 401.09 " stroke="#231f20" stroke-width="0.85" stroke-linecap="round"/>
<path d="M466.6 395.81 L466.6 398.19 M465.57 396.41 L467.63 397.59 M467.63 396.41 L465.57 397.59 " stroke="#231f20" stroke-width="0.85" stroke-linecap="round"/>
<path d="M472.8 402.81 L472.8 405.19 M471.77 403.41 L473.83 404.59 M473.83 403.41 L471.77 404.59 " stroke="#231f20" stroke-width="0.85" stroke-linecap="round"/>
<path d="M472.8 399.31 L472.8 401.69 M471.77 399.91 L473.83 401.09 M473.83 399.91 L471.77 401.09 " stroke="#231f20" stroke-width="0.85" stroke-linecap="round"/>
<path d="M472.8 395.81 L472.8 398.19 M471.77 396.41 L473.83 397.59 M473.83 396.41 L471.77 397.59 " stroke="#231f20" stroke-width="0.85" stroke-linecap="round"/>
<text x="466.61" y="459.1" font-size="8.6" text-anchor="middle" fill="#231f20" stroke="#231f20" stroke-width="0.17" textLength="22" lengthAdjust="spacingAndGlyphs">144 h</text>
<rect x="485.88" y="355.75" width="5" height="88.75" fill="#4f5668" />
<line x1="488.38" y1="351.5" x2="488.38" y2="355.75" stroke="#4f5668" stroke-width="0.9" />
<line x1="486.28" y1="351.5" x2="490.48" y2="351.5" stroke="#4f5668" stroke-width="1" />
<rect x="491.88" y="413.4" width="5.3" height="31.1" fill="#a8002a" />
<line x1="494.53" y1="412.8" x2="494.53" y2="413.4" stroke="#a8002a" stroke-width="0.9" />
<line x1="492.43" y1="412.8" x2="496.63" y2="412.8" stroke="#a8002a" stroke-width="1" />
<rect x="498.18" y="412.9" width="5.1" height="31.6" fill="#2e4c80" />
<line x1="500.73" y1="412.3" x2="500.73" y2="412.9" stroke="#2e4c80" stroke-width="0.9" />
<line x1="498.63" y1="412.3" x2="502.83" y2="412.3" stroke="#2e4c80" stroke-width="1" />
<path d="M494.53 403.81 L494.53 406.19 M493.5 404.41 L495.56 405.59 M495.56 404.41 L493.5 405.59 " stroke="#231f20" stroke-width="0.85" stroke-linecap="round"/>
<path d="M494.53 400.31 L494.53 402.69 M493.5 400.91 L495.56 402.09 M495.56 400.91 L493.5 402.09 " stroke="#231f20" stroke-width="0.85" stroke-linecap="round"/>
<path d="M500.73 403.81 L500.73 406.19 M499.7 404.41 L501.76 405.59 M501.76 404.41 L499.7 405.59 " stroke="#231f20" stroke-width="0.85" stroke-linecap="round"/>
<path d="M500.73 400.31 L500.73 402.69 M499.7 400.91 L501.76 402.09 M501.76 400.91 L499.7 402.09 " stroke="#231f20" stroke-width="0.85" stroke-linecap="round"/>
<text x="494.54" y="459.1" font-size="8.6" text-anchor="middle" fill="#231f20" stroke="#231f20" stroke-width="0.17" textLength="22" lengthAdjust="spacingAndGlyphs">168 h</text>
<line x1="313" y1="335.5" x2="313" y2="445.2" stroke="#231f20" stroke-width="1.5" />
<line x1="312.3" y1="444.9" x2="512" y2="444.9" stroke="#231f20" stroke-width="1.5" />
<line x1="313" y1="444.5" x2="313" y2="447.8" stroke="#231f20" stroke-width="1.1" />
<line x1="340.93" y1="444.5" x2="340.93" y2="447.8" stroke="#231f20" stroke-width="1.1" />
<line x1="368.86" y1="444.5" x2="368.86" y2="447.8" stroke="#231f20" stroke-width="1.1" />
<line x1="396.79" y1="444.5" x2="396.79" y2="447.8" stroke="#231f20" stroke-width="1.1" />
<line x1="424.72" y1="444.5" x2="424.72" y2="447.8" stroke="#231f20" stroke-width="1.1" />
<line x1="452.65" y1="444.5" x2="452.65" y2="447.8" stroke="#231f20" stroke-width="1.1" />
<line x1="480.58" y1="444.5" x2="480.58" y2="447.8" stroke="#231f20" stroke-width="1.1" />
<line x1="508.51" y1="444.5" x2="508.51" y2="447.8" stroke="#231f20" stroke-width="1.1" />
<rect x="323.6" y="466.3" width="5" height="5" fill="#4f5668" />
<text x="332.5" y="471.45" font-size="8.2" text-anchor="start" fill="#231f20" stroke="#231f20" stroke-width="0.17" textLength="29" lengthAdjust="spacingAndGlyphs">Control</text>
<rect x="370.6" y="466.3" width="5" height="5" fill="#a8002a" />
<text x="380" y="471.45" font-size="8.2" text-anchor="start" fill="#231f20" stroke="#231f20" stroke-width="0.17" textLength="52.5" lengthAdjust="spacingAndGlyphs">BMSC-sup #1</text>
<rect x="440.6" y="466.3" width="5" height="5" fill="#2e4c80" />
<text x="450" y="471.45" font-size="8.2" text-anchor="start" fill="#231f20" stroke="#231f20" stroke-width="0.17" textLength="51.5" lengthAdjust="spacingAndGlyphs">BMSC-sup #2</text>
<text x="25" y="549.34" font-size="10.4" text-anchor="middle" fill="#231f20" stroke="#231f20" stroke-width="0.06" textLength="83.7" lengthAdjust="spacingAndGlyphs" transform="rotate(-90 25 545.6)">Relative CD38 MFI (%)</text>
<text x="156" y="488.8" font-size="10" text-anchor="middle" fill="#231f20" stroke="#231f20" stroke-width="0.06" textLength="24.5" lengthAdjust="spacingAndGlyphs">H929</text>
<line x1="52.4" y1="601.25" x2="56.6" y2="601.25" stroke="#231f20" stroke-width="1" />
<text x="50" y="604.49" font-size="9" text-anchor="end" fill="#231f20" stroke="#231f20" stroke-width="0.17">0</text>
<line x1="52.4" y1="583.54" x2="56.6" y2="583.54" stroke="#231f20" stroke-width="1" />
<text x="50" y="586.78" font-size="9" text-anchor="end" fill="#231f20" stroke="#231f20" stroke-width="0.17">20</text>
<line x1="52.4" y1="565.83" x2="56.6" y2="565.83" stroke="#231f20" stroke-width="1" />
<text x="50" y="569.07" font-size="9" text-anchor="end" fill="#231f20" stroke="#231f20" stroke-width="0.17">40</text>
<line x1="52.4" y1="548.12" x2="56.6" y2="548.12" stroke="#231f20" stroke-width="1" />
<text x="50" y="551.37" font-size="9" text-anchor="end" fill="#231f20" stroke="#231f20" stroke-width="0.17">60</text>
<line x1="52.4" y1="530.42" x2="56.6" y2="530.42" stroke="#231f20" stroke-width="1" />
<text x="50" y="533.66" font-size="9" text-anchor="end" fill="#231f20" stroke="#231f20" stroke-width="0.17">80</text>
<line x1="52.4" y1="512.71" x2="56.6" y2="512.71" stroke="#231f20" stroke-width="1" />
<text x="50" y="515.95" font-size="9" text-anchor="end" fill="#231f20" stroke="#231f20" stroke-width="0.17">100</text>
<line x1="52.4" y1="495" x2="56.6" y2="495" stroke="#231f20" stroke-width="1" />
<text x="50" y="498.24" font-size="9" text-anchor="end" fill="#231f20" stroke="#231f20" stroke-width="0.17">120</text>
<rect x="62.3" y="512.71" width="5" height="88.54" fill="#4f5668" />
<line x1="64.8" y1="506.25" x2="64.8" y2="512.71" stroke="#4f5668" stroke-width="0.9" />
<line x1="62.7" y1="506.25" x2="66.9" y2="506.25" stroke="#4f5668" stroke-width="1" />
<rect x="68.3" y="530.5" width="5.3" height="70.75" fill="#a8002a" />
<line x1="70.95" y1="529.25" x2="70.95" y2="530.5" stroke="#a8002a" stroke-width="0.9" />
<line x1="68.85" y1="529.25" x2="73.05" y2="529.25" stroke="#a8002a" stroke-width="1" />
<rect x="74.6" y="530" width="5.1" height="71.25" fill="#2e4c80" />
<line x1="77.15" y1="528.75" x2="77.15" y2="530" stroke="#2e4c80" stroke-width="0.9" />
<line x1="75.05" y1="528.75" x2="79.25" y2="528.75" stroke="#2e4c80" stroke-width="1" />
<path d="M70.95 523.06 L70.95 525.44 M69.92 523.66 L71.98 524.84 M71.98 523.66 L69.92 524.84 " stroke="#231f20" stroke-width="0.85" stroke-linecap="round"/>
<path d="M77.15 523.06 L77.15 525.44 M76.12 523.66 L78.18 524.84 M78.18 523.66 L76.12 524.84 " stroke="#231f20" stroke-width="0.85" stroke-linecap="round"/>
<text x="70.92" y="615.6" font-size="8.6" text-anchor="middle" fill="#231f20" stroke="#231f20" stroke-width="0.17" textLength="17.2" lengthAdjust="spacingAndGlyphs">24 h</text>
<rect x="90.14" y="512.71" width="5" height="88.54" fill="#4f5668" />
<line x1="92.64" y1="501.25" x2="92.64" y2="512.71" stroke="#4f5668" stroke-width="0.9" />
<line x1="90.54" y1="501.25" x2="94.74" y2="501.25" stroke="#4f5668" stroke-width="1" />
<rect x="96.14" y="531.25" width="5.3" height="70" fill="#a8002a" />
<line x1="98.79" y1="528.25" x2="98.79" y2="531.25" stroke="#a8002a" stroke-width="0.9" />
<line x1="96.69" y1="528.25" x2="100.89" y2="528.25" stroke="#a8002a" stroke-width="1" />
<rect x="102.44" y="535.5" width="5.1" height="65.75" fill="#2e4c80" />
<line x1="104.99" y1="534.25" x2="104.99" y2="535.5" stroke="#2e4c80" stroke-width="0.9" />
<line x1="102.89" y1="534.25" x2="107.09" y2="534.25" stroke="#2e4c80" stroke-width="1" />
<path d="M98.79 522.81 L98.79 525.19 M97.76 523.41 L99.82 524.59 M99.82 523.41 L97.76 524.59 " stroke="#231f20" stroke-width="0.85" stroke-linecap="round"/>
<path d="M104.99 522.81 L104.99 525.19 M103.96 523.41 L106.02 524.59 M106.02 523.41 L103.96 524.59 " stroke="#231f20" stroke-width="0.85" stroke-linecap="round"/>
<text x="98.76" y="615.6" font-size="8.6" text-anchor="middle" fill="#231f20" stroke="#231f20" stroke-width="0.17" textLength="17.2" lengthAdjust="spacingAndGlyphs">48 h</text>
<rect x="117.98" y="512.71" width="5" height="88.54" fill="#4f5668" />
<line x1="120.48" y1="498" x2="120.48" y2="512.71" stroke="#4f5668" stroke-width="0.9" />
<line x1="118.38" y1="498" x2="122.58" y2="498" stroke="#4f5668" stroke-width="1" />
<rect x="123.98" y="542.8" width="5.3" height="58.45" fill="#a8002a" />
<line x1="126.63" y1="539.9" x2="126.63" y2="542.8" stroke="#a8002a" stroke-width="0.9" />
<line x1="124.53" y1="539.9" x2="128.73" y2="539.9" stroke="#a8002a" stroke-width="1" />
<rect x="130.28" y="541.9" width="5.1" height="59.35" fill="#2e4c80" />
<line x1="132.83" y1="538.5" x2="132.83" y2="541.9" stroke="#2e4c80" stroke-width="0.9" />
<line x1="130.73" y1="538.5" x2="134.93" y2="538.5" stroke="#2e4c80" stroke-width="1" />
<path d="M126.63 532.11 L126.63 534.49 M125.6 532.71 L127.66 533.89 M127.66 532.71 L125.6 533.89 " stroke="#231f20" stroke-width="0.85" stroke-linecap="round"/>
<path d="M132.83 532.11 L132.83 534.49 M131.8 532.71 L133.86 533.89 M133.86 532.71 L131.8 533.89 " stroke="#231f20" stroke-width="0.85" stroke-linecap="round"/>
<text x="126.6" y="615.6" font-size="8.6" text-anchor="middle" fill="#231f20" stroke="#231f20" stroke-width="0.17" textLength="17.2" lengthAdjust="spacingAndGlyphs">72 h</text>
<rect x="145.82" y="512.71" width="5" height="88.54" fill="#4f5668" />
<line x1="148.32" y1="508.75" x2="148.32" y2="512.71" stroke="#4f5668" stroke-width="0.9" />
<line x1="146.22" y1="508.75" x2="150.42" y2="508.75" stroke="#4f5668" stroke-width="1" />
<rect x="151.82" y="540.5" width="5.3" height="60.75" fill="#a8002a" />
<line x1="154.47" y1="539" x2="154.47" y2="540.5" stroke="#a8002a" stroke-width="0.9" />
<line x1="152.37" y1="539" x2="156.57" y2="539" stroke="#a8002a" stroke-width="1" />
<rect x="158.12" y="539.6" width="5.1" height="61.65" fill="#2e4c80" />
<line x1="160.67" y1="537" x2="160.67" y2="539.6" stroke="#2e4c80" stroke-width="0.9" />
<line x1="158.57" y1="537" x2="162.77" y2="537" stroke="#2e4c80" stroke-width="1" />
<path d="M154.47 529.61 L154.47 531.99 M153.44 530.21 L155.5 531.39 M155.5 530.21 L153.44 531.39 " stroke="#231f20" stroke-width="0.85" stroke-linecap="round"/>
<path d="M154.47 526.11 L154.47 528.49 M153.44 526.71 L155.5 527.89 M155.5 526.71 L153.44 527.89 " stroke="#231f20" stroke-width="0.85" stroke-linecap="round"/>
<path d="M160.67 532.51 L160.67 534.89 M159.64 533.11 L161.7 534.29 M161.7 533.11 L159.64 534.29 " stroke="#231f20" stroke-width="0.85" stroke-linecap="round"/>
<path d="M160.67 529.01 L160.67 531.39 M159.64 529.61 L161.7 530.79 M161.7 529.61 L159.64 530.79 " stroke="#231f20" stroke-width="0.85" stroke-linecap="round"/>
<path d="M160.67 525.51 L160.67 527.89 M159.64 526.11 L161.7 527.29 M161.7 526.11 L159.64 527.29 " stroke="#231f20" stroke-width="0.85" stroke-linecap="round"/>
<text x="154.44" y="615.6" font-size="8.6" text-anchor="middle" fill="#231f20" stroke="#231f20" stroke-width="0.17" textLength="17.2" lengthAdjust="spacingAndGlyphs">96 h</text>
<rect x="173.66" y="512.71" width="5" height="88.54" fill="#4f5668" />
<line x1="176.16" y1="505" x2="176.16" y2="512.71" stroke="#4f5668" stroke-width="0.9" />
<line x1="174.06" y1="505" x2="178.26" y2="505" stroke="#4f5668" stroke-width="1" />
<rect x="179.66" y="545.4" width="5.3" height="55.85" fill="#a8002a" />
<line x1="182.31" y1="541.3" x2="182.31" y2="545.4" stroke="#a8002a" stroke-width="0.9" />
<line x1="180.21" y1="541.3" x2="184.41" y2="541.3" stroke="#a8002a" stroke-width="1" />
<rect x="185.96" y="544" width="5.1" height="57.25" fill="#2e4c80" />
<line x1="188.51" y1="541.3" x2="188.51" y2="544" stroke="#2e4c80" stroke-width="0.9" />
<line x1="186.41" y1="541.3" x2="190.61" y2="541.3" stroke="#2e4c80" stroke-width="1" />
<path d="M182.31 534.51 L182.31 536.89 M181.28 535.11 L183.34 536.29 M183.34 535.11 L181.28 536.29 " stroke="#231f20" stroke-width="0.85" stroke-linecap="round"/>
<path d="M182.31 531.01 L182.31 533.39 M181.28 531.61 L183.34 532.79 M183.34 531.61 L181.28 532.79 " stroke="#231f20" stroke-width="0.85" stroke-linecap="round"/>
<path d="M188.51 533.51 L188.51 535.89 M187.48 534.11 L189.54 535.29 M189.54 534.11 L187.48 535.29 " stroke="#231f20" stroke-width="0.85" stroke-linecap="round"/>
<text x="182.28" y="615.6" font-size="8.6" text-anchor="middle" fill="#231f20" stroke="#231f20" stroke-width="0.17" textLength="22" lengthAdjust="spacingAndGlyphs">120 h</text>
<rect x="201.5" y="512.71" width="5" height="88.54" fill="#4f5668" />
<line x1="204" y1="507.3" x2="204" y2="512.71" stroke="#4f5668" stroke-width="0.9" />
<line x1="201.9" y1="507.3" x2="206.1" y2="507.3" stroke="#4f5668" stroke-width="1" />
<rect x="207.5" y="550" width="5.3" height="51.25" fill="#a8002a" />
<line x1="210.15" y1="545.7" x2="210.15" y2="550" stroke="#a8002a" stroke-width="0.9" />
<line x1="208.05" y1="545.7" x2="212.25" y2="545.7" stroke="#a8002a" stroke-width="1" />
<rect x="213.8" y="547.7" width="5.1" height="53.55" fill="#2e4c80" />
<line x1="216.35" y1="541.9" x2="216.35" y2="547.7" stroke="#2e4c80" stroke-width="0.9" />
<line x1="214.25" y1="541.9" x2="218.45" y2="541.9" stroke="#2e4c80" stroke-width="1" />
<path d="M210.15 536.31 L210.15 538.69 M209.12 536.91 L211.18 538.09 M211.18 536.91 L209.12 538.09 " stroke="#231f20" stroke-width="0.85" stroke-linecap="round"/>
<path d="M210.15 532.81 L210.15 535.19 M209.12 533.41 L211.18 534.59 M211.18 533.41 L209.12 534.59 " stroke="#231f20" stroke-width="0.85" stroke-linecap="round"/>
<path d="M210.15 529.31 L210.15 531.69 M209.12 529.91 L211.18 531.09 M211.18 529.91 L209.12 531.09 " stroke="#231f20" stroke-width="0.85" stroke-linecap="round"/>
<path d="M216.35 535.41 L216.35 537.79 M215.32 536.01 L217.38 537.19 M217.38 536.01 L215.32 537.19 " stroke="#231f20" stroke-width="0.85" stroke-linecap="round"/>
<path d="M216.35 531.91 L216.35 534.29 M215.32 532.51 L217.38 533.69 M217.38 532.51 L215.32 533.69 " stroke="#231f20" stroke-width="0.85" stroke-linecap="round"/>
<text x="210.12" y="615.6" font-size="8.6" text-anchor="middle" fill="#231f20" stroke="#231f20" stroke-width="0.17" textLength="22" lengthAdjust="spacingAndGlyphs">144 h</text>
<rect x="229.34" y="512.71" width="5" height="88.54" fill="#4f5668" />
<line x1="231.84" y1="500.1" x2="231.84" y2="512.71" stroke="#4f5668" stroke-width="0.9" />
<line x1="229.74" y1="500.1" x2="233.94" y2="500.1" stroke="#4f5668" stroke-width="1" />
<rect x="235.34" y="554" width="5.3" height="47.25" fill="#a8002a" />
<line x1="237.99" y1="549.1" x2="237.99" y2="554" stroke="#a8002a" stroke-width="0.9" />
<line x1="235.89" y1="549.1" x2="240.09" y2="549.1" stroke="#a8002a" stroke-width="1" />
<rect x="241.64" y="551.1" width="5.1" height="50.15" fill="#2e4c80" />
<line x1="244.19" y1="547.1" x2="244.19" y2="551.1" stroke="#2e4c80" stroke-width="0.9" />
<line x1="242.09" y1="547.1" x2="246.29" y2="547.1" stroke="#2e4c80" stroke-width="1" />
<path d="M237.99 541.31 L237.99 543.69 M236.96 541.91 L239.02 543.09 M239.02 541.91 L236.96 543.09 " stroke="#231f20" stroke-width="0.85" stroke-linecap="round"/>
<path d="M244.19 541.31 L244.19 543.69 M243.16 541.91 L245.22 543.09 M245.22 541.91 L243.16 543.09 " stroke="#231f20" stroke-width="0.85" stroke-linecap="round"/>
<text x="237.96" y="615.6" font-size="8.6" text-anchor="middle" fill="#231f20" stroke="#231f20" stroke-width="0.17" textLength="22" lengthAdjust="spacingAndGlyphs">168 h</text>
<line x1="56.6" y1="491.25" x2="56.6" y2="601.95" stroke="#231f20" stroke-width="1.5" />
<line x1="55.9" y1="601.65" x2="255.3" y2="601.65" stroke="#231f20" stroke-width="1.5" />
<line x1="56.6" y1="601.25" x2="56.6" y2="604.55" stroke="#231f20" stroke-width="1.1" />
<line x1="84.84" y1="601.25" x2="84.84" y2="604.55" stroke="#231f20" stroke-width="1.1" />
<line x1="112.68" y1="601.25" x2="112.68" y2="604.55" stroke="#231f20" stroke-width="1.1" />
<line x1="140.52" y1="601.25" x2="140.52" y2="604.55" stroke="#231f20" stroke-width="1.1" />
<line x1="168.36" y1="601.25" x2="168.36" y2="604.55" stroke="#231f20" stroke-width="1.1" />
<line x1="196.2" y1="601.25" x2="196.2" y2="604.55" stroke="#231f20" stroke-width="1.1" />
<line x1="224.04" y1="601.25" x2="224.04" y2="604.55" stroke="#231f20" stroke-width="1.1" />
<line x1="251.88" y1="601.25" x2="251.88" y2="604.55" stroke="#231f20" stroke-width="1.1" />
<rect x="67.1" y="623.8" width="5" height="5" fill="#4f5668" />
<text x="76" y="628.95" font-size="8.2" text-anchor="start" fill="#231f20" stroke="#231f20" stroke-width="0.17" textLength="28" lengthAdjust="spacingAndGlyphs">Control</text>
<rect x="114.6" y="623.8" width="5" height="5" fill="#a8002a" />
<text x="122.5" y="628.95" font-size="8.2" text-anchor="start" fill="#231f20" stroke="#231f20" stroke-width="0.17" textLength="51.5" lengthAdjust="spacingAndGlyphs">BMSC-sup #1</text>
<rect x="184.6" y="623.8" width="5" height="5" fill="#2e4c80" />
<text x="193.5" y="628.95" font-size="8.2" text-anchor="start" fill="#231f20" stroke="#231f20" stroke-width="0.17" textLength="51.5" lengthAdjust="spacingAndGlyphs">BMSC-sup #2</text>
<text x="281.3" y="548.14" font-size="10.4" text-anchor="middle" fill="#231f20" stroke="#231f20" stroke-width="0.06" textLength="83.7" lengthAdjust="spacingAndGlyphs" transform="rotate(-90 281.3 544.4)">Relative CD38 MFI (%)</text>
<text x="412.7" y="493" font-size="10" text-anchor="middle" fill="#231f20" stroke="#231f20" stroke-width="0.06" textLength="34.2" lengthAdjust="spacingAndGlyphs">MM.1S</text>
<line x1="308.8" y1="601.25" x2="313" y2="601.25" stroke="#231f20" stroke-width="1" />
<text x="306.4" y="604.49" font-size="9" text-anchor="end" fill="#231f20" stroke="#231f20" stroke-width="0.17">0</text>
<line x1="308.8" y1="583.04" x2="313" y2="583.04" stroke="#231f20" stroke-width="1" />
<text x="306.4" y="586.28" font-size="9" text-anchor="end" fill="#231f20" stroke="#231f20" stroke-width="0.17">20</text>
<line x1="308.8" y1="564.83" x2="313" y2="564.83" stroke="#231f20" stroke-width="1" />
<text x="306.4" y="568.07" font-size="9" text-anchor="end" fill="#231f20" stroke="#231f20" stroke-width="0.17">40</text>
<line x1="308.8" y1="546.62" x2="313" y2="546.62" stroke="#231f20" stroke-width="1" />
<text x="306.4" y="549.87" font-size="9" text-anchor="end" fill="#231f20" stroke="#231f20" stroke-width="0.17">60</text>
<line x1="308.8" y1="528.42" x2="313" y2="528.42" stroke="#231f20" stroke-width="1" />
<text x="306.4" y="531.66" font-size="9" text-anchor="end" fill="#231f20" stroke="#231f20" stroke-width="0.17">80</text>
<line x1="308.8" y1="510.21" x2="313" y2="510.21" stroke="#231f20" stroke-width="1" />
<text x="306.4" y="513.45" font-size="9" text-anchor="end" fill="#231f20" stroke="#231f20" stroke-width="0.17">100</text>
<line x1="308.8" y1="492" x2="313" y2="492" stroke="#231f20" stroke-width="1" />
<text x="306.4" y="495.24" font-size="9" text-anchor="end" fill="#231f20" stroke="#231f20" stroke-width="0.17">120</text>
<rect x="318.3" y="510.21" width="5" height="91.04" fill="#4f5668" />
<line x1="320.8" y1="505" x2="320.8" y2="510.21" stroke="#4f5668" stroke-width="0.9" />
<line x1="318.7" y1="505" x2="322.9" y2="505" stroke="#4f5668" stroke-width="1" />
<rect x="324.3" y="536.25" width="5.3" height="65" fill="#a8002a" />
<line x1="326.95" y1="533" x2="326.95" y2="536.25" stroke="#a8002a" stroke-width="0.9" />
<line x1="324.85" y1="533" x2="329.05" y2="533" stroke="#a8002a" stroke-width="1" />
<rect x="330.6" y="537.5" width="5.1" height="63.75" fill="#2e4c80" />
<line x1="333.15" y1="534.5" x2="333.15" y2="537.5" stroke="#2e4c80" stroke-width="0.9" />
<line x1="331.05" y1="534.5" x2="335.25" y2="534.5" stroke="#2e4c80" stroke-width="1" />
<path d="M326.95 526.81 L326.95 529.19 M325.92 527.41 L327.98 528.59 M327.98 527.41 L325.92 528.59 " stroke="#231f20" stroke-width="0.85" stroke-linecap="round"/>
<path d="M326.95 523.31 L326.95 525.69 M325.92 523.91 L327.98 525.09 M327.98 523.91 L325.92 525.09 " stroke="#231f20" stroke-width="0.85" stroke-linecap="round"/>
<path d="M333.15 526.81 L333.15 529.19 M332.12 527.41 L334.18 528.59 M334.18 527.41 L332.12 528.59 " stroke="#231f20" stroke-width="0.85" stroke-linecap="round"/>
<path d="M333.15 523.31 L333.15 525.69 M332.12 523.91 L334.18 525.09 M334.18 523.91 L332.12 525.09 " stroke="#231f20" stroke-width="0.85" stroke-linecap="round"/>
<text x="326.96" y="615.6" font-size="8.6" text-anchor="middle" fill="#231f20" stroke="#231f20" stroke-width="0.17" textLength="17.2" lengthAdjust="spacingAndGlyphs">24 h</text>
<rect x="346.23" y="510.21" width="5" height="91.04" fill="#4f5668" />
<line x1="348.73" y1="506.25" x2="348.73" y2="510.21" stroke="#4f5668" stroke-width="0.9" />
<line x1="346.63" y1="506.25" x2="350.83" y2="506.25" stroke="#4f5668" stroke-width="1" />
<rect x="352.23" y="540.75" width="5.3" height="60.5" fill="#a8002a" />
<line x1="354.88" y1="538.75" x2="354.88" y2="540.75" stroke="#a8002a" stroke-width="0.9" />
<line x1="352.78" y1="538.75" x2="356.98" y2="538.75" stroke="#a8002a" stroke-width="1" />
<rect x="358.53" y="542" width="5.1" height="59.25" fill="#2e4c80" />
<line x1="361.08" y1="539.5" x2="361.08" y2="542" stroke="#2e4c80" stroke-width="0.9" />
<line x1="358.98" y1="539.5" x2="363.18" y2="539.5" stroke="#2e4c80" stroke-width="1" />
<path d="M354.88 530.31 L354.88 532.69 M353.85 530.91 L355.91 532.09 M355.91 530.91 L353.85 532.09 " stroke="#231f20" stroke-width="0.85" stroke-linecap="round"/>
<path d="M354.88 526.81 L354.88 529.19 M353.85 527.41 L355.91 528.59 M355.91 527.41 L353.85 528.59 " stroke="#231f20" stroke-width="0.85" stroke-linecap="round"/>
<path d="M361.08 533.31 L361.08 535.69 M360.05 533.91 L362.11 535.09 M362.11 533.91 L360.05 535.09 " stroke="#231f20" stroke-width="0.85" stroke-linecap="round"/>
<path d="M361.08 529.81 L361.08 532.19 M360.05 530.41 L362.11 531.59 M362.11 530.41 L360.05 531.59 " stroke="#231f20" stroke-width="0.85" stroke-linecap="round"/>
<path d="M361.08 526.31 L361.08 528.69 M360.05 526.91 L362.11 528.09 M362.11 526.91 L360.05 528.09 " stroke="#231f20" stroke-width="0.85" stroke-linecap="round"/>
<text x="354.89" y="615.6" font-size="8.6" text-anchor="middle" fill="#231f20" stroke="#231f20" stroke-width="0.17" textLength="17.2" lengthAdjust="spacingAndGlyphs">48 h</text>
<rect x="374.16" y="510.21" width="5" height="91.04" fill="#4f5668" />
<line x1="376.66" y1="505.75" x2="376.66" y2="510.21" stroke="#4f5668" stroke-width="0.9" />
<line x1="374.56" y1="505.75" x2="378.76" y2="505.75" stroke="#4f5668" stroke-width="1" />
<rect x="380.16" y="540.5" width="5.3" height="60.75" fill="#a8002a" />
<line x1="382.81" y1="539.8" x2="382.81" y2="540.5" stroke="#a8002a" stroke-width="0.9" />
<line x1="380.71" y1="539.8" x2="384.91" y2="539.8" stroke="#a8002a" stroke-width="1" />
<rect x="386.46" y="543.75" width="5.1" height="57.5" fill="#2e4c80" />
<line x1="389.01" y1="542.5" x2="389.01" y2="543.75" stroke="#2e4c80" stroke-width="0.9" />
<line x1="386.91" y1="542.5" x2="391.11" y2="542.5" stroke="#2e4c80" stroke-width="1" />
<path d="M382.81 532.31 L382.81 534.69 M381.78 532.91 L383.84 534.09 M383.84 532.91 L381.78 534.09 " stroke="#231f20" stroke-width="0.85" stroke-linecap="round"/>
<path d="M382.81 528.81 L382.81 531.19 M381.78 529.41 L383.84 530.59 M383.84 529.41 L381.78 530.59 " stroke="#231f20" stroke-width="0.85" stroke-linecap="round"/>
<path d="M389.01 532.31 L389.01 534.69 M387.98 532.91 L390.04 534.09 M390.04 532.91 L387.98 534.09 " stroke="#231f20" stroke-width="0.85" stroke-linecap="round"/>
<path d="M389.01 528.81 L389.01 531.19 M387.98 529.41 L390.04 530.59 M390.04 529.41 L387.98 530.59 " stroke="#231f20" stroke-width="0.85" stroke-linecap="round"/>
<text x="382.82" y="615.6" font-size="8.6" text-anchor="middle" fill="#231f20" stroke="#231f20" stroke-width="0.17" textLength="17.2" lengthAdjust="spacingAndGlyphs">72 h</text>
<rect x="402.09" y="510.21" width="5" height="91.04" fill="#4f5668" />
<line x1="404.59" y1="507.7" x2="404.59" y2="510.21" stroke="#4f5668" stroke-width="0.9" />
<line x1="402.49" y1="507.7" x2="406.69" y2="507.7" stroke="#4f5668" stroke-width="1" />
<rect x="408.09" y="533.8" width="5.3" height="67.45" fill="#a8002a" />
<line x1="410.74" y1="530.6" x2="410.74" y2="533.8" stroke="#a8002a" stroke-width="0.9" />
<line x1="408.64" y1="530.6" x2="412.84" y2="530.6" stroke="#a8002a" stroke-width="1" />
<rect x="414.39" y="535.7" width="5.1" height="65.55" fill="#2e4c80" />
<line x1="416.94" y1="533.3" x2="416.94" y2="535.7" stroke="#2e4c80" stroke-width="0.9" />
<line x1="414.84" y1="533.3" x2="419.04" y2="533.3" stroke="#2e4c80" stroke-width="1" />
<path d="M410.74 524.31 L410.74 526.69 M409.71 524.91 L411.77 526.09 M411.77 524.91 L409.71 526.09 " stroke="#231f20" stroke-width="0.85" stroke-linecap="round"/>
<path d="M410.74 520.81 L410.74 523.19 M409.71 521.41 L411.77 522.59 M411.77 521.41 L409.71 522.59 " stroke="#231f20" stroke-width="0.85" stroke-linecap="round"/>
<path d="M410.74 517.31 L410.74 519.69 M409.71 517.91 L411.77 519.09 M411.77 517.91 L409.71 519.09 " stroke="#231f20" stroke-width="0.85" stroke-linecap="round"/>
<path d="M416.94 524.31 L416.94 526.69 M415.91 524.91 L417.97 526.09 M417.97 524.91 L415.91 526.09 " stroke="#231f20" stroke-width="0.85" stroke-linecap="round"/>
<path d="M416.94 520.81 L416.94 523.19 M415.91 521.41 L417.97 522.59 M417.97 521.41 L415.91 522.59 " stroke="#231f20" stroke-width="0.85" stroke-linecap="round"/>
<path d="M416.94 517.31 L416.94 519.69 M415.91 517.91 L417.97 519.09 M417.97 517.91 L415.91 519.09 " stroke="#231f20" stroke-width="0.85" stroke-linecap="round"/>
<text x="410.75" y="615.6" font-size="8.6" text-anchor="middle" fill="#231f20" stroke="#231f20" stroke-width="0.17" textLength="17.2" lengthAdjust="spacingAndGlyphs">96 h</text>
<rect x="430.02" y="510.21" width="5" height="91.04" fill="#4f5668" />
<line x1="432.52" y1="507.5" x2="432.52" y2="510.21" stroke="#4f5668" stroke-width="0.9" />
<line x1="430.42" y1="507.5" x2="434.62" y2="507.5" stroke="#4f5668" stroke-width="1" />
<rect x="436.02" y="529.3" width="5.3" height="71.95" fill="#a8002a" />
<line x1="438.67" y1="525.8" x2="438.67" y2="529.3" stroke="#a8002a" stroke-width="0.9" />
<line x1="436.57" y1="525.8" x2="440.77" y2="525.8" stroke="#a8002a" stroke-width="1" />
<rect x="442.32" y="529" width="5.1" height="72.25" fill="#2e4c80" />
<line x1="444.87" y1="526.3" x2="444.87" y2="529" stroke="#2e4c80" stroke-width="0.9" />
<line x1="442.77" y1="526.3" x2="446.97" y2="526.3" stroke="#2e4c80" stroke-width="1" />
<path d="M438.67 520.31 L438.67 522.69 M437.64 520.91 L439.7 522.09 M439.7 520.91 L437.64 522.09 " stroke="#231f20" stroke-width="0.85" stroke-linecap="round"/>
<path d="M438.67 516.81 L438.67 519.19 M437.64 517.41 L439.7 518.59 M439.7 517.41 L437.64 518.59 " stroke="#231f20" stroke-width="0.85" stroke-linecap="round"/>
<path d="M444.87 520.31 L444.87 522.69 M443.84 520.91 L445.9 522.09 M445.9 520.91 L443.84 522.09 " stroke="#231f20" stroke-width="0.85" stroke-linecap="round"/>
<path d="M444.87 516.81 L444.87 519.19 M443.84 517.41 L445.9 518.59 M445.9 517.41 L443.84 518.59 " stroke="#231f20" stroke-width="0.85" stroke-linecap="round"/>
<text x="438.69" y="615.6" font-size="8.6" text-anchor="middle" fill="#231f20" stroke="#231f20" stroke-width="0.17" textLength="22" lengthAdjust="spacingAndGlyphs">120 h</text>
<rect x="457.95" y="510.21" width="5" height="91.04" fill="#4f5668" />
<line x1="460.45" y1="507.7" x2="460.45" y2="510.21" stroke="#4f5668" stroke-width="0.9" />
<line x1="458.35" y1="507.7" x2="462.55" y2="507.7" stroke="#4f5668" stroke-width="1" />
<rect x="463.95" y="527.9" width="5.3" height="73.35" fill="#a8002a" />
<line x1="466.6" y1="522.3" x2="466.6" y2="527.9" stroke="#a8002a" stroke-width="0.9" />
<line x1="464.5" y1="522.3" x2="468.7" y2="522.3" stroke="#a8002a" stroke-width="1" />
<rect x="470.25" y="527.1" width="5.1" height="74.15" fill="#2e4c80" />
<line x1="472.8" y1="521.2" x2="472.8" y2="527.1" stroke="#2e4c80" stroke-width="0.9" />
<line x1="470.7" y1="521.2" x2="474.9" y2="521.2" stroke="#2e4c80" stroke-width="1" />
<path d="M466.6 515.71 L466.6 518.09 M465.57 516.31 L467.63 517.49 M467.63 516.31 L465.57 517.49 " stroke="#231f20" stroke-width="0.85" stroke-linecap="round"/>
<path d="M472.8 515.71 L472.8 518.09 M471.77 516.31 L473.83 517.49 M473.83 516.31 L471.77 517.49 " stroke="#231f20" stroke-width="0.85" stroke-linecap="round"/>
<text x="466.61" y="615.6" font-size="8.6" text-anchor="middle" fill="#231f20" stroke="#231f20" stroke-width="0.17" textLength="22" lengthAdjust="spacingAndGlyphs">144 h</text>
<rect x="485.88" y="510.21" width="5" height="91.04" fill="#4f5668" />
<line x1="488.38" y1="506.4" x2="488.38" y2="510.21" stroke="#4f5668" stroke-width="0.9" />
<line x1="486.28" y1="506.4" x2="490.48" y2="506.4" stroke="#4f5668" stroke-width="1" />
<rect x="491.88" y="521.7" width="5.3" height="79.55" fill="#a8002a" />
<line x1="494.53" y1="519.8" x2="494.53" y2="521.7" stroke="#a8002a" stroke-width="0.9" />
<line x1="492.43" y1="519.8" x2="496.63" y2="519.8" stroke="#a8002a" stroke-width="1" />
<rect x="498.18" y="523.1" width="5.1" height="78.15" fill="#2e4c80" />
<line x1="500.73" y1="520.4" x2="500.73" y2="523.1" stroke="#2e4c80" stroke-width="0.9" />
<line x1="498.63" y1="520.4" x2="502.83" y2="520.4" stroke="#2e4c80" stroke-width="1" />
<path d="M494.53 513.81 L494.53 516.19 M493.5 514.41 L495.56 515.59 M495.56 514.41 L493.5 515.59 " stroke="#231f20" stroke-width="0.85" stroke-linecap="round"/>
<path d="M500.73 513.81 L500.73 516.19 M499.7 514.41 L501.76 515.59 M501.76 514.41 L499.7 515.59 " stroke="#231f20" stroke-width="0.85" stroke-linecap="round"/>
<text x="494.54" y="615.6" font-size="8.6" text-anchor="middle" fill="#231f20" stroke="#231f20" stroke-width="0.17" textLength="22" lengthAdjust="spacingAndGlyphs">168 h</text>
<line x1="313" y1="490" x2="313" y2="601.95" stroke="#231f20" stroke-width="1.5" />
<line x1="312.3" y1="601.65" x2="512" y2="601.65" stroke="#231f20" stroke-width="1.5" />
<line x1="313" y1="601.25" x2="313" y2="604.55" stroke="#231f20" stroke-width="1.1" />
<line x1="340.93" y1="601.25" x2="340.93" y2="604.55" stroke="#231f20" stroke-width="1.1" />
<line x1="368.86" y1="601.25" x2="368.86" y2="604.55" stroke="#231f20" stroke-width="1.1" />
<line x1="396.79" y1="601.25" x2="396.79" y2="604.55" stroke="#231f20" stroke-width="1.1" />
<line x1="424.72" y1="601.25" x2="424.72" y2="604.55" stroke="#231f20" stroke-width="1.1" />
<line x1="452.65" y1="601.25" x2="452.65" y2="604.55" stroke="#231f20" stroke-width="1.1" />
<line x1="480.58" y1="601.25" x2="480.58" y2="604.55" stroke="#231f20" stroke-width="1.1" />
<line x1="508.51" y1="601.25" x2="508.51" y2="604.55" stroke="#231f20" stroke-width="1.1" />
<rect x="323.6" y="623.8" width="5" height="5" fill="#4f5668" />
<text x="332.5" y="628.95" font-size="8.2" text-anchor="start" fill="#231f20" stroke="#231f20" stroke-width="0.17" textLength="29" lengthAdjust="spacingAndGlyphs">Control</text>
<rect x="370.6" y="623.8" width="5" height="5" fill="#a8002a" />
<text x="380" y="628.95" font-size="8.2" text-anchor="start" fill="#231f20" stroke="#231f20" stroke-width="0.17" textLength="52.5" lengthAdjust="spacingAndGlyphs">BMSC-sup #1</text>
<rect x="440.6" y="623.8" width="5" height="5" fill="#2e4c80" />
<text x="450" y="628.95" font-size="8.2" text-anchor="start" fill="#231f20" stroke="#231f20" stroke-width="0.17" textLength="51.5" lengthAdjust="spacingAndGlyphs">BMSC-sup #2</text>
<path d="M66.3 697.3 C73.54 697.23 97.18 697.1 106.5 696.9 C115.82 696.7 114.63 696.54 118.1 696.2 C121.57 695.86 123.39 695.49 125.8 695 C128.21 694.51 129.61 694.47 131.5 693.5 C133.39 692.53 134.73 691.17 136.3 689.6 C137.87 688.03 138.81 686.53 140.2 684.8 C141.59 683.07 142.87 681.49 144 680 C145.13 678.51 145.46 677.47 146.5 676.5 C147.54 675.53 148.68 675.18 149.8 674.6 C150.92 674.02 151.84 674.24 152.7 673.3 C153.56 672.36 153.74 670.97 154.6 669.4 C155.46 667.83 156.53 665.73 157.5 664.6 C158.47 663.47 159.06 662.92 160 663.1 C160.94 663.28 161.76 664.57 162.7 665.6 C163.64 666.63 164.23 667.77 165.2 668.8 C166.17 669.83 167.06 669.63 168.1 671.3 C169.14 672.97 169.97 675.49 171 678.1 C172.03 680.71 172.59 683.21 173.8 685.8 C175.01 688.39 176.13 690.7 177.7 692.5 C179.27 694.3 180.77 695.01 182.5 695.8 C184.23 696.59 183.41 696.63 187.3 696.9 C191.19 697.17 201.08 697.23 204.1 697.3 Z" fill="rgba(96,102,118,0.68)" stroke="none" stroke-width="1" />
<path d="M66.3 697.3 C73.54 697.23 97.18 697.1 106.5 696.9 C115.82 696.7 114.63 696.54 118.1 696.2 C121.57 695.86 123.39 695.49 125.8 695 C128.21 694.51 129.61 694.47 131.5 693.5 C133.39 692.53 134.73 691.17 136.3 689.6 C137.87 688.03 138.81 686.53 140.2 684.8 C141.59 683.07 142.87 681.49 144 680 C145.13 678.51 145.46 677.47 146.5 676.5 C147.54 675.53 148.68 675.18 149.8 674.6 C150.92 674.02 151.84 674.24 152.7 673.3 C153.56 672.36 153.74 670.97 154.6 669.4 C155.46 667.83 156.53 665.73 157.5 664.6 C158.47 663.47 159.06 662.92 160 663.1 C160.94 663.28 161.76 664.57 162.7 665.6 C163.64 666.63 164.23 667.77 165.2 668.8 C166.17 669.83 167.06 669.63 168.1 671.3 C169.14 672.97 169.97 675.49 171 678.1 C172.03 680.71 172.59 683.21 173.8 685.8 C175.01 688.39 176.13 690.7 177.7 692.5 C179.27 694.3 180.77 695.01 182.5 695.8 C184.23 696.59 183.41 696.63 187.3 696.9 C191.19 697.17 201.08 697.23 204.1 697.3" fill="none" stroke="#4e5668" stroke-width="0.85" stroke-linejoin="round"/>
<path d="M66.3 717.8 C71.47 717.78 88.45 717.99 95 717.7 C101.55 717.41 99.93 717.1 102.7 716.2 C105.47 715.3 107.97 714.03 110.4 712.7 C112.83 711.37 114.29 710.19 116.2 708.8 C118.11 707.41 119.27 706.89 121 705 C122.73 703.11 124.25 700.89 125.8 698.3 C127.35 695.71 128.39 692.69 129.6 690.6 C130.81 688.51 131.74 687.92 132.5 686.7 C133.26 685.48 133.28 683.1 133.8 683.8 C134.32 684.5 134.59 688.17 135.4 690.6 C136.21 693.03 137.26 694.89 138.3 697.3 C139.34 699.71 139.99 702.2 141.2 704 C142.41 705.8 143.45 706.44 145 707.3 C146.55 708.16 148.07 708.17 149.8 708.8 C151.53 709.43 152.69 709.76 154.6 710.8 C156.51 711.84 157.97 713.39 160.4 714.6 C162.83 715.81 164.99 716.94 168.1 717.5 C171.21 718.06 171.22 717.65 177.7 717.7 C184.18 717.75 199.35 717.78 204.1 717.8 Z" fill="rgba(207,139,127,0.75)" stroke="none" stroke-width="1" />
<path d="M66.3 717.8 C71.47 717.78 88.45 717.99 95 717.7 C101.55 717.41 99.93 717.1 102.7 716.2 C105.47 715.3 107.97 714.03 110.4 712.7 C112.83 711.37 114.29 710.19 116.2 708.8 C118.11 707.41 119.27 706.89 121 705 C122.73 703.11 124.25 700.89 125.8 698.3 C127.35 695.71 128.39 692.69 129.6 690.6 C130.81 688.51 131.74 687.92 132.5 686.7 C133.26 685.48 133.28 683.1 133.8 683.8 C134.32 684.5 134.59 688.17 135.4 690.6 C136.21 693.03 137.26 694.89 138.3 697.3 C139.34 699.71 139.99 702.2 141.2 704 C142.41 705.8 143.45 706.44 145 707.3 C146.55 708.16 148.07 708.17 149.8 708.8 C151.53 709.43 152.69 709.76 154.6 710.8 C156.51 711.84 157.97 713.39 160.4 714.6 C162.83 715.81 164.99 716.94 168.1 717.5 C171.21 718.06 171.22 717.65 177.7 717.7 C184.18 717.75 199.35 717.78 204.1 717.8" fill="none" stroke="#c8385a" stroke-width="1.1" stroke-linejoin="round"/>
<path d="M66.3 737.8 C70.93 737.89 86.11 738.41 92 738.3 C97.89 738.19 96.39 737.65 99 737.2 C101.61 736.75 103.76 736.57 106.5 735.8 C109.24 735.03 111.77 734.47 114.2 732.9 C116.63 731.33 118.27 729.19 120 727.1 C121.73 725.01 122.59 723.89 123.8 721.3 C125.01 718.71 125.73 715.11 126.7 712.7 C127.67 710.29 128.34 708.6 129.2 707.9 C130.06 707.2 130.56 709.25 131.5 708.8 C132.44 708.35 133.43 705.04 134.4 705.4 C135.37 705.76 135.96 708.8 136.9 710.8 C137.84 712.8 138.48 714.09 139.6 716.5 C140.72 718.91 141.86 722.29 143.1 724.2 C144.34 726.11 145.11 725.88 146.5 727.1 C147.89 728.32 149 729.61 150.8 731 C152.6 732.39 154.09 733.67 156.5 734.8 C158.91 735.93 161.77 736.62 164.2 737.3 C166.63 737.98 187.62 738.51 170 738.6 C152.38 738.69 84.97 737.94 66.3 737.8 Z" fill="rgba(141,146,186,0.8)" stroke="none" stroke-width="1" />
<path d="M66.3 737.8 C70.93 737.89 86.11 738.41 92 738.3 C97.89 738.19 96.39 737.65 99 737.2 C101.61 736.75 103.76 736.57 106.5 735.8 C109.24 735.03 111.77 734.47 114.2 732.9 C116.63 731.33 118.27 729.19 120 727.1 C121.73 725.01 122.59 723.89 123.8 721.3 C125.01 718.71 125.73 715.11 126.7 712.7 C127.67 710.29 128.34 708.6 129.2 707.9 C130.06 707.2 130.56 709.25 131.5 708.8 C132.44 708.35 133.43 705.04 134.4 705.4 C135.37 705.76 135.96 708.8 136.9 710.8 C137.84 712.8 138.48 714.09 139.6 716.5 C140.72 718.91 141.86 722.29 143.1 724.2 C144.34 726.11 145.11 725.88 146.5 727.1 C147.89 728.32 149 729.61 150.8 731 C152.6 732.39 154.09 733.67 156.5 734.8 C158.91 735.93 161.77 736.62 164.2 737.3 C166.63 737.98 187.62 738.51 170 738.6 C152.38 738.69 84.97 737.94 66.3 737.8" fill="none" stroke="#35558f" stroke-width="1" stroke-linejoin="round"/>
<rect x="66.3" y="655.4" width="137.8" height="82.4" fill="none" stroke="#111" stroke-width="1.2"/>
<text x="135.5" y="649.03" font-size="9.8" text-anchor="middle" fill="#231f20" stroke="#231f20" stroke-width="0.06" textLength="87.7" lengthAdjust="spacingAndGlyphs">RPMI 8226 (168 h)</text>
<line x1="69.17" y1="737.8" x2="69.17" y2="740.4" stroke="#111" stroke-width="1.1" />
<line x1="71.56" y1="737.8" x2="71.56" y2="740.4" stroke="#111" stroke-width="1.1" />
<line x1="73.52" y1="737.8" x2="73.52" y2="740.4" stroke="#111" stroke-width="1.1" />
<line x1="75.17" y1="737.8" x2="75.17" y2="740.4" stroke="#111" stroke-width="1.1" />
<line x1="76.61" y1="737.8" x2="76.61" y2="740.4" stroke="#111" stroke-width="1.1" />
<line x1="77.87" y1="737.8" x2="77.87" y2="740.4" stroke="#111" stroke-width="1.1" />
<line x1="79" y1="737.8" x2="79" y2="741.2" stroke="#111" stroke-width="1.1" />
<line x1="86.44" y1="737.8" x2="86.44" y2="740.4" stroke="#111" stroke-width="1.1" />
<line x1="90.78" y1="737.8" x2="90.78" y2="740.4" stroke="#111" stroke-width="1.1" />
<line x1="93.87" y1="737.8" x2="93.87" y2="740.4" stroke="#111" stroke-width="1.1" />
<line x1="96.26" y1="737.8" x2="96.26" y2="740.4" stroke="#111" stroke-width="1.1" />
<line x1="98.22" y1="737.8" x2="98.22" y2="740.4" stroke="#111" stroke-width="1.1" />
<line x1="99.87" y1="737.8" x2="99.87" y2="740.4" stroke="#111" stroke-width="1.1" />
<line x1="101.31" y1="737.8" x2="101.31" y2="740.4" stroke="#111" stroke-width="1.1" />
<line x1="102.57" y1="737.8" x2="102.57" y2="740.4" stroke="#111" stroke-width="1.1" />
<line x1="103.7" y1="737.8" x2="103.7" y2="741.2" stroke="#111" stroke-width="1.1" />
<line x1="111.14" y1="737.8" x2="111.14" y2="740.4" stroke="#111" stroke-width="1.1" />
<line x1="115.48" y1="737.8" x2="115.48" y2="740.4" stroke="#111" stroke-width="1.1" />
<line x1="118.57" y1="737.8" x2="118.57" y2="740.4" stroke="#111" stroke-width="1.1" />
<line x1="120.96" y1="737.8" x2="120.96" y2="740.4" stroke="#111" stroke-width="1.1" />
<line x1="122.92" y1="737.8" x2="122.92" y2="740.4" stroke="#111" stroke-width="1.1" />
<line x1="124.57" y1="737.8" x2="124.57" y2="740.4" stroke="#111" stroke-width="1.1" />
<line x1="126.01" y1="737.8" x2="126.01" y2="740.4" stroke="#111" stroke-width="1.1" />
<line x1="127.27" y1="737.8" x2="127.27" y2="740.4" stroke="#111" stroke-width="1.1" />
<line x1="128.4" y1="737.8" x2="128.4" y2="741.2" stroke="#111" stroke-width="1.1" />
<line x1="135.84" y1="737.8" x2="135.84" y2="740.4" stroke="#111" stroke-width="1.1" />
<line x1="140.18" y1="737.8" x2="140.18" y2="740.4" stroke="#111" stroke-width="1.1" />
<line x1="143.27" y1="737.8" x2="143.27" y2="740.4" stroke="#111" stroke-width="1.1" />
<line x1="145.66" y1="737.8" x2="145.66" y2="740.4" stroke="#111" stroke-width="1.1" />
<line x1="147.62" y1="737.8" x2="147.62" y2="740.4" stroke="#111" stroke-width="1.1" />
<line x1="149.27" y1="737.8" x2="149.27" y2="740.4" stroke="#111" stroke-width="1.1" />
<line x1="150.71" y1="737.8" x2="150.71" y2="740.4" stroke="#111" stroke-width="1.1" />
<line x1="151.97" y1="737.8" x2="151.97" y2="740.4" stroke="#111" stroke-width="1.1" />
<line x1="153.1" y1="737.8" x2="153.1" y2="741.2" stroke="#111" stroke-width="1.1" />
<line x1="160.54" y1="737.8" x2="160.54" y2="740.4" stroke="#111" stroke-width="1.1" />
<line x1="164.88" y1="737.8" x2="164.88" y2="740.4" stroke="#111" stroke-width="1.1" />
<line x1="167.97" y1="737.8" x2="167.97" y2="740.4" stroke="#111" stroke-width="1.1" />
<line x1="170.36" y1="737.8" x2="170.36" y2="740.4" stroke="#111" stroke-width="1.1" />
<line x1="172.32" y1="737.8" x2="172.32" y2="740.4" stroke="#111" stroke-width="1.1" />
<line x1="173.97" y1="737.8" x2="173.97" y2="740.4" stroke="#111" stroke-width="1.1" />
<line x1="175.41" y1="737.8" x2="175.41" y2="740.4" stroke="#111" stroke-width="1.1" />
<line x1="176.67" y1="737.8" x2="176.67" y2="740.4" stroke="#111" stroke-width="1.1" />
<line x1="177.8" y1="737.8" x2="177.8" y2="741.2" stroke="#111" stroke-width="1.1" />
<line x1="185.24" y1="737.8" x2="185.24" y2="740.4" stroke="#111" stroke-width="1.1" />
<line x1="189.58" y1="737.8" x2="189.58" y2="740.4" stroke="#111" stroke-width="1.1" />
<line x1="192.67" y1="737.8" x2="192.67" y2="740.4" stroke="#111" stroke-width="1.1" />
<line x1="195.06" y1="737.8" x2="195.06" y2="740.4" stroke="#111" stroke-width="1.1" />
<line x1="197.02" y1="737.8" x2="197.02" y2="740.4" stroke="#111" stroke-width="1.1" />
<line x1="198.67" y1="737.8" x2="198.67" y2="740.4" stroke="#111" stroke-width="1.1" />
<line x1="200.11" y1="737.8" x2="200.11" y2="740.4" stroke="#111" stroke-width="1.1" />
<line x1="201.37" y1="737.8" x2="201.37" y2="740.4" stroke="#111" stroke-width="1.1" />
<line x1="202.5" y1="737.8" x2="202.5" y2="741.2" stroke="#111" stroke-width="1.1" />
<text x="72.9" y="752.53" font-size="9.8" text-anchor="start" fill="#231f20" stroke="#231f20" stroke-width="0.06" textLength="8.4" lengthAdjust="spacingAndGlyphs">10</text>
<text x="81.6" y="748.82" font-size="7" text-anchor="start" fill="#231f20" stroke="#231f20" stroke-width="0.17" textLength="3.5" lengthAdjust="spacingAndGlyphs">0</text>
<text x="98" y="752.53" font-size="9.8" text-anchor="start" fill="#231f20" stroke="#231f20" stroke-width="0.06" textLength="8.4" lengthAdjust="spacingAndGlyphs">10</text>
<text x="106.7" y="748.82" font-size="7" text-anchor="start" fill="#231f20" stroke="#231f20" stroke-width="0.17" textLength="3.5" lengthAdjust="spacingAndGlyphs">1</text>
<text x="123.1" y="752.53" font-size="9.8" text-anchor="start" fill="#231f20" stroke="#231f20" stroke-width="0.06" textLength="8.4" lengthAdjust="spacingAndGlyphs">10</text>
<text x="131.8" y="748.82" font-size="7" text-anchor="start" fill="#231f20" stroke="#231f20" stroke-width="0.17" textLength="3.5" lengthAdjust="spacingAndGlyphs">2</text>
<text x="148.2" y="752.53" font-size="9.8" text-anchor="start" fill="#231f20" stroke="#231f20" stroke-width="0.06" textLength="8.4" lengthAdjust="spacingAndGlyphs">10</text>
<text x="156.9" y="748.82" font-size="7" text-anchor="start" fill="#231f20" stroke="#231f20" stroke-width="0.17" textLength="3.5" lengthAdjust="spacingAndGlyphs">3</text>
<text x="173.3" y="752.53" font-size="9.8" text-anchor="start" fill="#231f20" stroke="#231f20" stroke-width="0.06" textLength="8.4" lengthAdjust="spacingAndGlyphs">10</text>
<text x="182" y="748.82" font-size="7" text-anchor="start" fill="#231f20" stroke="#231f20" stroke-width="0.17" textLength="3.5" lengthAdjust="spacingAndGlyphs">4</text>
<path d="M214.5 697.3 C230.03 697.28 284.69 697.76 300.8 697.2 C316.91 696.64 302.97 696.05 304 694.2 C305.03 692.35 305.76 689.83 306.5 686.9 C307.24 683.97 307.51 681 308.1 677.9 C308.69 674.8 309.06 672.35 309.8 669.7 C310.54 667.05 311.32 664.91 312.2 663.2 C313.08 661.49 313.82 660.06 314.7 660.2 C315.58 660.34 316.22 662 317.1 664 C317.98 666 318.86 668.51 319.6 671.3 C320.34 674.09 320.46 676.4 321.2 679.5 C321.94 682.6 322.67 685.85 323.7 688.5 C324.73 691.15 325.44 692.72 326.9 694.2 C328.36 695.68 330.04 696.16 331.8 696.7 C333.56 697.24 332.99 697.09 336.7 697.2 C340.41 697.31 349.57 697.28 352.4 697.3 Z" fill="rgba(96,102,118,0.68)" stroke="none" stroke-width="1" />
<path d="M214.5 697.3 C230.03 697.28 284.69 697.76 300.8 697.2 C316.91 696.64 302.97 696.05 304 694.2 C305.03 692.35 305.76 689.83 306.5 686.9 C307.24 683.97 307.51 681 308.1 677.9 C308.69 674.8 309.06 672.35 309.8 669.7 C310.54 667.05 311.32 664.91 312.2 663.2 C313.08 661.49 313.82 660.06 314.7 660.2 C315.58 660.34 316.22 662 317.1 664 C317.98 666 318.86 668.51 319.6 671.3 C320.34 674.09 320.46 676.4 321.2 679.5 C321.94 682.6 322.67 685.85 323.7 688.5 C324.73 691.15 325.44 692.72 326.9 694.2 C328.36 695.68 330.04 696.16 331.8 696.7 C333.56 697.24 332.99 697.09 336.7 697.2 C340.41 697.31 349.57 697.28 352.4 697.3" fill="none" stroke="#4e5668" stroke-width="0.85" stroke-linejoin="round"/>
<path d="M214.5 717.8 C223.55 717.73 254.27 717.81 264.8 717.4 C275.33 716.99 270.35 716.58 273 715.5 C275.65 714.42 277.3 713.31 279.5 711.4 C281.7 709.49 283.44 707.4 285.2 704.9 C286.96 702.4 287.97 700.16 289.3 697.5 C290.63 694.84 291.41 692.46 292.6 690.1 C293.79 687.74 294.66 686.07 295.9 684.4 C297.14 682.73 298.33 681.09 299.5 680.8 C300.67 680.51 301.43 682.01 302.4 682.8 C303.37 683.59 304.16 683.72 304.9 685.2 C305.64 686.68 305.92 688.79 306.5 691 C307.08 693.21 307.36 695 308.1 697.5 C308.84 700 309.57 702.4 310.6 704.9 C311.63 707.4 312.49 709.49 313.8 711.4 C315.11 713.31 316.12 714.42 317.9 715.5 C319.68 716.58 317.49 716.99 323.7 717.4 C329.91 717.81 347.23 717.73 352.4 717.8 Z" fill="rgba(207,139,127,0.75)" stroke="none" stroke-width="1" />
<path d="M214.5 717.8 C223.55 717.73 254.27 717.81 264.8 717.4 C275.33 716.99 270.35 716.58 273 715.5 C275.65 714.42 277.3 713.31 279.5 711.4 C281.7 709.49 283.44 707.4 285.2 704.9 C286.96 702.4 287.97 700.16 289.3 697.5 C290.63 694.84 291.41 692.46 292.6 690.1 C293.79 687.74 294.66 686.07 295.9 684.4 C297.14 682.73 298.33 681.09 299.5 680.8 C300.67 680.51 301.43 682.01 302.4 682.8 C303.37 683.59 304.16 683.72 304.9 685.2 C305.64 686.68 305.92 688.79 306.5 691 C307.08 693.21 307.36 695 308.1 697.5 C308.84 700 309.57 702.4 310.6 704.9 C311.63 707.4 312.49 709.49 313.8 711.4 C315.11 713.31 316.12 714.42 317.9 715.5 C319.68 716.58 317.49 716.99 323.7 717.4 C329.91 717.81 347.23 717.73 352.4 717.8" fill="none" stroke="#c8385a" stroke-width="1.1" stroke-linejoin="round"/>
<path d="M214.5 738.1 C223.77 738.12 255.65 738.4 266 738.2 C276.35 738 270.02 737.67 272 737 C273.98 736.33 275.56 735.2 277 734.5 C278.44 733.8 278.78 734.05 280 733.1 C281.22 732.15 282.41 730.73 283.8 729.2 C285.19 727.67 286.31 726.94 287.7 724.6 C289.09 722.26 290.4 718.9 291.5 716.2 C292.6 713.5 293.1 710.99 293.8 709.6 C294.5 708.21 294.77 709.33 295.4 708.5 C296.03 707.67 296.74 705.9 297.3 705 C297.86 704.1 298.09 703.64 298.5 703.5 C298.91 703.36 299.11 704.56 299.6 704.2 C300.09 703.84 300.64 701.57 301.2 701.5 C301.76 701.43 302.09 703.03 302.7 703.8 C303.31 704.57 303.92 705.24 304.6 705.8 C305.28 706.36 305.94 705.59 306.5 706.9 C307.06 708.21 307.21 710.89 307.7 713.1 C308.19 715.31 308.52 716.72 309.2 719.2 C309.88 721.68 310.53 724.69 311.5 726.9 C312.47 729.11 313.34 729.83 314.6 731.5 C315.86 733.17 317.17 734.99 318.5 736.2 C319.83 737.41 340.72 737.86 322 738.2 C303.28 738.54 233.85 738.12 214.5 738.1 Z" fill="rgba(141,146,186,0.8)" stroke="none" stroke-width="1" />
<path d="M214.5 738.1 C223.77 738.12 255.65 738.4 266 738.2 C276.35 738 270.02 737.67 272 737 C273.98 736.33 275.56 735.2 277 734.5 C278.44 733.8 278.78 734.05 280 733.1 C281.22 732.15 282.41 730.73 283.8 729.2 C285.19 727.67 286.31 726.94 287.7 724.6 C289.09 722.26 290.4 718.9 291.5 716.2 C292.6 713.5 293.1 710.99 293.8 709.6 C294.5 708.21 294.77 709.33 295.4 708.5 C296.03 707.67 296.74 705.9 297.3 705 C297.86 704.1 298.09 703.64 298.5 703.5 C298.91 703.36 299.11 704.56 299.6 704.2 C300.09 703.84 300.64 701.57 301.2 701.5 C301.76 701.43 302.09 703.03 302.7 703.8 C303.31 704.57 303.92 705.24 304.6 705.8 C305.28 706.36 305.94 705.59 306.5 706.9 C307.06 708.21 307.21 710.89 307.7 713.1 C308.19 715.31 308.52 716.72 309.2 719.2 C309.88 721.68 310.53 724.69 311.5 726.9 C312.47 729.11 313.34 729.83 314.6 731.5 C315.86 733.17 317.17 734.99 318.5 736.2 C319.83 737.41 340.72 737.86 322 738.2 C303.28 738.54 233.85 738.12 214.5 738.1" fill="none" stroke="#35558f" stroke-width="1" stroke-linejoin="round"/>
<rect x="214.5" y="655.4" width="137.9" height="82.7" fill="none" stroke="#111" stroke-width="1.2"/>
<text x="283" y="649.03" font-size="9.8" text-anchor="middle" fill="#231f20" stroke="#231f20" stroke-width="0.06" textLength="75" lengthAdjust="spacingAndGlyphs">MOLP-8 (168 h)</text>
<line x1="214.5" y1="738.1" x2="214.5" y2="741.5" stroke="#111" stroke-width="1.1" />
<line x1="222.9" y1="738.1" x2="222.9" y2="740.7" stroke="#111" stroke-width="1.1" />
<line x1="227.81" y1="738.1" x2="227.81" y2="740.7" stroke="#111" stroke-width="1.1" />
<line x1="231.3" y1="738.1" x2="231.3" y2="740.7" stroke="#111" stroke-width="1.1" />
<line x1="234" y1="738.1" x2="234" y2="740.7" stroke="#111" stroke-width="1.1" />
<line x1="236.21" y1="738.1" x2="236.21" y2="740.7" stroke="#111" stroke-width="1.1" />
<line x1="238.08" y1="738.1" x2="238.08" y2="740.7" stroke="#111" stroke-width="1.1" />
<line x1="239.7" y1="738.1" x2="239.7" y2="740.7" stroke="#111" stroke-width="1.1" />
<line x1="241.12" y1="738.1" x2="241.12" y2="740.7" stroke="#111" stroke-width="1.1" />
<line x1="242.4" y1="738.1" x2="242.4" y2="741.5" stroke="#111" stroke-width="1.1" />
<line x1="250.8" y1="738.1" x2="250.8" y2="740.7" stroke="#111" stroke-width="1.1" />
<line x1="255.71" y1="738.1" x2="255.71" y2="740.7" stroke="#111" stroke-width="1.1" />
<line x1="259.2" y1="738.1" x2="259.2" y2="740.7" stroke="#111" stroke-width="1.1" />
<line x1="261.9" y1="738.1" x2="261.9" y2="740.7" stroke="#111" stroke-width="1.1" />
<line x1="264.11" y1="738.1" x2="264.11" y2="740.7" stroke="#111" stroke-width="1.1" />
<line x1="265.98" y1="738.1" x2="265.98" y2="740.7" stroke="#111" stroke-width="1.1" />
<line x1="267.6" y1="738.1" x2="267.6" y2="740.7" stroke="#111" stroke-width="1.1" />
<line x1="269.02" y1="738.1" x2="269.02" y2="740.7" stroke="#111" stroke-width="1.1" />
<line x1="270.3" y1="738.1" x2="270.3" y2="741.5" stroke="#111" stroke-width="1.1" />
<line x1="278.7" y1="738.1" x2="278.7" y2="740.7" stroke="#111" stroke-width="1.1" />
<line x1="283.61" y1="738.1" x2="283.61" y2="740.7" stroke="#111" stroke-width="1.1" />
<line x1="287.1" y1="738.1" x2="287.1" y2="740.7" stroke="#111" stroke-width="1.1" />
<line x1="289.8" y1="738.1" x2="289.8" y2="740.7" stroke="#111" stroke-width="1.1" />
<line x1="292.01" y1="738.1" x2="292.01" y2="740.7" stroke="#111" stroke-width="1.1" />
<line x1="293.88" y1="738.1" x2="293.88" y2="740.7" stroke="#111" stroke-width="1.1" />
<line x1="295.5" y1="738.1" x2="295.5" y2="740.7" stroke="#111" stroke-width="1.1" />
<line x1="296.92" y1="738.1" x2="296.92" y2="740.7" stroke="#111" stroke-width="1.1" />
<line x1="298.2" y1="738.1" x2="298.2" y2="741.5" stroke="#111" stroke-width="1.1" />
<line x1="306.6" y1="738.1" x2="306.6" y2="740.7" stroke="#111" stroke-width="1.1" />
<line x1="311.51" y1="738.1" x2="311.51" y2="740.7" stroke="#111" stroke-width="1.1" />
<line x1="315" y1="738.1" x2="315" y2="740.7" stroke="#111" stroke-width="1.1" />
<line x1="317.7" y1="738.1" x2="317.7" y2="740.7" stroke="#111" stroke-width="1.1" />
<line x1="319.91" y1="738.1" x2="319.91" y2="740.7" stroke="#111" stroke-width="1.1" />
<line x1="321.78" y1="738.1" x2="321.78" y2="740.7" stroke="#111" stroke-width="1.1" />
<line x1="323.4" y1="738.1" x2="323.4" y2="740.7" stroke="#111" stroke-width="1.1" />
<line x1="324.82" y1="738.1" x2="324.82" y2="740.7" stroke="#111" stroke-width="1.1" />
<line x1="326.1" y1="738.1" x2="326.1" y2="741.5" stroke="#111" stroke-width="1.1" />
<line x1="334.5" y1="738.1" x2="334.5" y2="740.7" stroke="#111" stroke-width="1.1" />
<line x1="339.41" y1="738.1" x2="339.41" y2="740.7" stroke="#111" stroke-width="1.1" />
<line x1="342.9" y1="738.1" x2="342.9" y2="740.7" stroke="#111" stroke-width="1.1" />
<line x1="345.6" y1="738.1" x2="345.6" y2="740.7" stroke="#111" stroke-width="1.1" />
<line x1="347.81" y1="738.1" x2="347.81" y2="740.7" stroke="#111" stroke-width="1.1" />
<line x1="349.68" y1="738.1" x2="349.68" y2="740.7" stroke="#111" stroke-width="1.1" />
<line x1="351.3" y1="738.1" x2="351.3" y2="740.7" stroke="#111" stroke-width="1.1" />
<text x="208.8" y="752.53" font-size="9.8" text-anchor="start" fill="#231f20" stroke="#231f20" stroke-width="0.06" textLength="8.4" lengthAdjust="spacingAndGlyphs">10</text>
<text x="217.5" y="748.82" font-size="7" text-anchor="start" fill="#231f20" stroke="#231f20" stroke-width="0.17" textLength="3.5" lengthAdjust="spacingAndGlyphs">0</text>
<text x="236.5" y="752.53" font-size="9.8" text-anchor="start" fill="#231f20" stroke="#231f20" stroke-width="0.06" textLength="8.4" lengthAdjust="spacingAndGlyphs">10</text>
<text x="245.2" y="748.82" font-size="7" text-anchor="start" fill="#231f20" stroke="#231f20" stroke-width="0.17" textLength="3.5" lengthAdjust="spacingAndGlyphs">1</text>
<text x="264.2" y="752.53" font-size="9.8" text-anchor="start" fill="#231f20" stroke="#231f20" stroke-width="0.06" textLength="8.4" lengthAdjust="spacingAndGlyphs">10</text>
<text x="272.9" y="748.82" font-size="7" text-anchor="start" fill="#231f20" stroke="#231f20" stroke-width="0.17" textLength="3.5" lengthAdjust="spacingAndGlyphs">2</text>
<text x="291.9" y="752.53" font-size="9.8" text-anchor="start" fill="#231f20" stroke="#231f20" stroke-width="0.06" textLength="8.4" lengthAdjust="spacingAndGlyphs">10</text>
<text x="300.6" y="748.82" font-size="7" text-anchor="start" fill="#231f20" stroke="#231f20" stroke-width="0.17" textLength="3.5" lengthAdjust="spacingAndGlyphs">3</text>
<text x="319.6" y="752.53" font-size="9.8" text-anchor="start" fill="#231f20" stroke="#231f20" stroke-width="0.06" textLength="8.4" lengthAdjust="spacingAndGlyphs">10</text>
<text x="328.3" y="748.82" font-size="7" text-anchor="start" fill="#231f20" stroke="#231f20" stroke-width="0.17" textLength="3.5" lengthAdjust="spacingAndGlyphs">4</text>
<text x="35" y="689.9" font-size="8.6" text-anchor="middle" fill="#4a5570" stroke="#4a5570" stroke-width="0.17" textLength="30" lengthAdjust="spacingAndGlyphs">Control</text>
<text x="34.6" y="712.4" font-size="8.6" text-anchor="middle" fill="#c0223e" stroke="#c0223e" stroke-width="0.17" textLength="53" lengthAdjust="spacingAndGlyphs">BMSC-sup #1</text>
<text x="35.2" y="735.6" font-size="8.6" text-anchor="middle" fill="#3a5a9a" stroke="#3a5a9a" stroke-width="0.17" textLength="54.5" lengthAdjust="spacingAndGlyphs">BMSC-sup #2</text>
<line x1="66.3" y1="758.3" x2="339" y2="758.3" stroke="#111" stroke-width="1.4" />
<path d="M346.5 758.3 L338 754.5 L339.5 758.3 L338 762.1 Z" fill="#111" stroke="none" stroke-width="1" />
<text x="206" y="771.63" font-size="11.2" text-anchor="middle" fill="#231f20" stroke="#231f20" stroke-width="0.06" textLength="21.5" lengthAdjust="spacingAndGlyphs">CD38</text>
</svg></body></html>
